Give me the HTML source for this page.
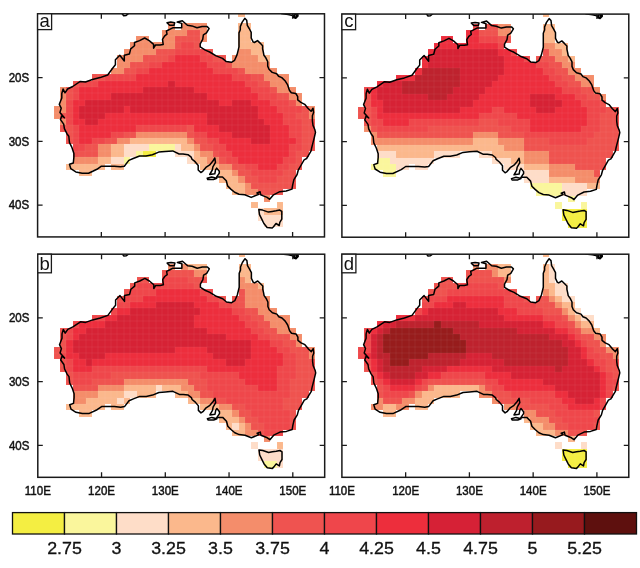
<!DOCTYPE html>
<html><head><meta charset="utf-8"><title>fig</title>
<style>
html,body{margin:0;padding:0;background:#fff;}
svg{display:block;font-family:"Liberation Sans",sans-serif;fill:#111;}
.tl{font-size:12px;stroke:#111;stroke-width:0.45px;}
.cl{stroke:#111;stroke-width:0.3px;}
text{opacity:0.999;}
</style></head><body>
<svg width="640" height="568" viewBox="0 0 640 568">
<defs><filter id="bl" x="-5%" y="-5%" width="110%" height="110%"><feGaussianBlur stdDeviation="0.55"/></filter></defs>
<rect width="640" height="568" fill="#fff"/>
<g transform="translate(37.6,13.8)">
<clipPath id="cpa"><rect x="0" y="0" width="286.88" height="223.12"/></clipPath>
<g clip-path="url(#cpa)">
<g filter="url(#bl)" shape-rendering="crispEdges">
<rect x="200.40" y="-2.80" width="7.00" height="6.00" fill="#FBB88C"/>
<rect x="130.40" y="9.20" width="7.00" height="7.00" fill="#F48D6B"/>
<rect x="143.40" y="9.20" width="26.00" height="7.00" fill="#F48D6B"/>
<rect x="200.40" y="9.20" width="13.00" height="7.00" fill="#FBB88C"/>
<rect x="124.40" y="16.20" width="25.00" height="6.00" fill="#F48D6B"/>
<rect x="149.40" y="16.20" width="13.00" height="6.00" fill="#EF5350"/>
<rect x="162.40" y="16.20" width="7.00" height="6.00" fill="#F48D6B"/>
<rect x="200.40" y="16.20" width="13.00" height="6.00" fill="#FBB88C"/>
<rect x="98.40" y="22.20" width="13.00" height="6.00" fill="#F48D6B"/>
<rect x="124.40" y="22.20" width="13.00" height="6.00" fill="#F48D6B"/>
<rect x="137.40" y="22.20" width="25.00" height="6.00" fill="#EF5350"/>
<rect x="162.40" y="22.20" width="7.00" height="6.00" fill="#F48D6B"/>
<rect x="200.40" y="22.20" width="13.00" height="6.00" fill="#FBB88C"/>
<rect x="92.40" y="28.20" width="45.00" height="7.00" fill="#F48D6B"/>
<rect x="137.40" y="28.20" width="6.00" height="7.00" fill="#EF5350"/>
<rect x="143.40" y="28.20" width="13.00" height="7.00" fill="#EF464B"/>
<rect x="156.40" y="28.20" width="6.00" height="7.00" fill="#EF5350"/>
<rect x="200.40" y="28.20" width="26.00" height="7.00" fill="#FBB88C"/>
<rect x="86.40" y="35.20" width="32.00" height="6.00" fill="#F48D6B"/>
<rect x="118.40" y="35.20" width="19.00" height="6.00" fill="#EF5350"/>
<rect x="137.40" y="35.20" width="32.00" height="6.00" fill="#EF464B"/>
<rect x="169.40" y="35.20" width="6.00" height="6.00" fill="#EF5350"/>
<rect x="200.40" y="35.20" width="13.00" height="6.00" fill="#F48D6B"/>
<rect x="213.40" y="35.20" width="13.00" height="6.00" fill="#FBB88C"/>
<rect x="79.40" y="41.20" width="26.00" height="7.00" fill="#F48D6B"/>
<rect x="105.40" y="41.20" width="25.00" height="7.00" fill="#EF5350"/>
<rect x="130.40" y="41.20" width="7.00" height="7.00" fill="#EF464B"/>
<rect x="137.40" y="41.20" width="25.00" height="7.00" fill="#ED2E3C"/>
<rect x="162.40" y="41.20" width="13.00" height="7.00" fill="#EF464B"/>
<rect x="175.40" y="41.20" width="13.00" height="7.00" fill="#EF5350"/>
<rect x="194.40" y="41.20" width="26.00" height="7.00" fill="#F48D6B"/>
<rect x="220.40" y="41.20" width="12.00" height="7.00" fill="#FBB88C"/>
<rect x="79.40" y="48.20" width="13.00" height="6.00" fill="#F48D6B"/>
<rect x="92.40" y="48.20" width="19.00" height="6.00" fill="#EF5350"/>
<rect x="111.40" y="48.20" width="13.00" height="6.00" fill="#EF464B"/>
<rect x="124.40" y="48.20" width="45.00" height="6.00" fill="#ED2E3C"/>
<rect x="169.40" y="48.20" width="19.00" height="6.00" fill="#EF464B"/>
<rect x="188.40" y="48.20" width="6.00" height="6.00" fill="#EF5350"/>
<rect x="194.40" y="48.20" width="38.00" height="6.00" fill="#F48D6B"/>
<rect x="73.40" y="54.20" width="13.00" height="6.00" fill="#F48D6B"/>
<rect x="86.40" y="54.20" width="12.00" height="6.00" fill="#EF5350"/>
<rect x="98.40" y="54.20" width="13.00" height="6.00" fill="#EF464B"/>
<rect x="111.40" y="54.20" width="64.00" height="6.00" fill="#ED2E3C"/>
<rect x="175.40" y="54.20" width="25.00" height="6.00" fill="#EF464B"/>
<rect x="200.40" y="54.20" width="7.00" height="6.00" fill="#EF5350"/>
<rect x="207.40" y="54.20" width="32.00" height="6.00" fill="#F48D6B"/>
<rect x="54.40" y="60.20" width="13.00" height="7.00" fill="#EF5350"/>
<rect x="67.40" y="60.20" width="31.00" height="7.00" fill="#EF464B"/>
<rect x="98.40" y="60.20" width="96.00" height="7.00" fill="#ED2E3C"/>
<rect x="194.40" y="60.20" width="19.00" height="7.00" fill="#EF464B"/>
<rect x="213.40" y="60.20" width="13.00" height="7.00" fill="#EF5350"/>
<rect x="226.40" y="60.20" width="25.00" height="7.00" fill="#F48D6B"/>
<rect x="35.40" y="67.20" width="6.00" height="6.00" fill="#EF5350"/>
<rect x="41.40" y="67.20" width="19.00" height="6.00" fill="#EF464B"/>
<rect x="60.40" y="67.20" width="70.00" height="6.00" fill="#ED2E3C"/>
<rect x="130.40" y="67.20" width="7.00" height="6.00" fill="#D62136"/>
<rect x="137.40" y="67.20" width="70.00" height="6.00" fill="#ED2E3C"/>
<rect x="207.40" y="67.20" width="13.00" height="6.00" fill="#EF464B"/>
<rect x="220.40" y="67.20" width="12.00" height="6.00" fill="#EF5350"/>
<rect x="232.40" y="67.20" width="19.00" height="6.00" fill="#F48D6B"/>
<rect x="22.40" y="73.20" width="6.00" height="6.00" fill="#F48D6B"/>
<rect x="28.40" y="73.20" width="7.00" height="6.00" fill="#EF5350"/>
<rect x="35.40" y="73.20" width="6.00" height="6.00" fill="#EF464B"/>
<rect x="41.40" y="73.20" width="64.00" height="6.00" fill="#ED2E3C"/>
<rect x="105.40" y="73.20" width="51.00" height="6.00" fill="#D62136"/>
<rect x="156.40" y="73.20" width="57.00" height="6.00" fill="#ED2E3C"/>
<rect x="213.40" y="73.20" width="19.00" height="6.00" fill="#EF464B"/>
<rect x="232.40" y="73.20" width="7.00" height="6.00" fill="#EF5350"/>
<rect x="239.40" y="73.20" width="19.00" height="6.00" fill="#F48D6B"/>
<rect x="22.40" y="79.20" width="6.00" height="7.00" fill="#F48D6B"/>
<rect x="28.40" y="79.20" width="7.00" height="7.00" fill="#EF5350"/>
<rect x="35.40" y="79.20" width="6.00" height="7.00" fill="#EF464B"/>
<rect x="41.40" y="79.20" width="32.00" height="7.00" fill="#ED2E3C"/>
<rect x="73.40" y="79.20" width="96.00" height="7.00" fill="#D62136"/>
<rect x="169.40" y="79.20" width="51.00" height="7.00" fill="#ED2E3C"/>
<rect x="220.40" y="79.20" width="19.00" height="7.00" fill="#EF464B"/>
<rect x="239.40" y="79.20" width="12.00" height="7.00" fill="#EF5350"/>
<rect x="251.40" y="79.20" width="13.00" height="7.00" fill="#F48D6B"/>
<rect x="22.40" y="86.20" width="6.00" height="6.00" fill="#F48D6B"/>
<rect x="28.40" y="86.20" width="7.00" height="6.00" fill="#EF464B"/>
<rect x="35.40" y="86.20" width="12.00" height="6.00" fill="#ED2E3C"/>
<rect x="47.40" y="86.20" width="134.00" height="6.00" fill="#D62136"/>
<rect x="181.40" y="86.20" width="13.00" height="6.00" fill="#ED2E3C"/>
<rect x="194.40" y="86.20" width="19.00" height="6.00" fill="#D62136"/>
<rect x="213.40" y="86.20" width="19.00" height="6.00" fill="#ED2E3C"/>
<rect x="232.40" y="86.20" width="19.00" height="6.00" fill="#EF464B"/>
<rect x="251.40" y="86.20" width="7.00" height="6.00" fill="#EF5350"/>
<rect x="258.40" y="86.20" width="6.00" height="6.00" fill="#F48D6B"/>
<rect x="16.40" y="92.20" width="12.00" height="7.00" fill="#F48D6B"/>
<rect x="28.40" y="92.20" width="7.00" height="7.00" fill="#EF464B"/>
<rect x="35.40" y="92.20" width="6.00" height="7.00" fill="#ED2E3C"/>
<rect x="41.40" y="92.20" width="45.00" height="7.00" fill="#D62136"/>
<rect x="86.40" y="92.20" width="6.00" height="7.00" fill="#ED2E3C"/>
<rect x="92.40" y="92.20" width="128.00" height="7.00" fill="#D62136"/>
<rect x="220.40" y="92.20" width="19.00" height="7.00" fill="#ED2E3C"/>
<rect x="239.40" y="92.20" width="25.00" height="7.00" fill="#EF464B"/>
<rect x="264.40" y="92.20" width="7.00" height="7.00" fill="#EF5350"/>
<rect x="271.40" y="92.20" width="6.00" height="7.00" fill="#F48D6B"/>
<rect x="16.40" y="99.20" width="6.00" height="6.00" fill="#F48D6B"/>
<rect x="22.40" y="99.20" width="6.00" height="6.00" fill="#EF5350"/>
<rect x="28.40" y="99.20" width="7.00" height="6.00" fill="#EF464B"/>
<rect x="35.40" y="99.20" width="6.00" height="6.00" fill="#ED2E3C"/>
<rect x="41.40" y="99.20" width="26.00" height="6.00" fill="#D62136"/>
<rect x="67.40" y="99.20" width="102.00" height="6.00" fill="#ED2E3C"/>
<rect x="169.40" y="99.20" width="51.00" height="6.00" fill="#D62136"/>
<rect x="220.40" y="99.20" width="25.00" height="6.00" fill="#ED2E3C"/>
<rect x="245.40" y="99.20" width="13.00" height="6.00" fill="#EF464B"/>
<rect x="258.40" y="99.20" width="13.00" height="6.00" fill="#EF5350"/>
<rect x="271.40" y="99.20" width="6.00" height="6.00" fill="#F48D6B"/>
<rect x="22.40" y="105.20" width="6.00" height="6.00" fill="#F48D6B"/>
<rect x="28.40" y="105.20" width="7.00" height="6.00" fill="#EF464B"/>
<rect x="35.40" y="105.20" width="12.00" height="6.00" fill="#ED2E3C"/>
<rect x="47.40" y="105.20" width="13.00" height="6.00" fill="#D62136"/>
<rect x="60.40" y="105.20" width="109.00" height="6.00" fill="#ED2E3C"/>
<rect x="169.40" y="105.20" width="57.00" height="6.00" fill="#D62136"/>
<rect x="226.40" y="105.20" width="19.00" height="6.00" fill="#ED2E3C"/>
<rect x="245.40" y="105.20" width="19.00" height="6.00" fill="#EF464B"/>
<rect x="264.40" y="105.20" width="13.00" height="6.00" fill="#EF5350"/>
<rect x="22.40" y="111.20" width="13.00" height="7.00" fill="#EF5350"/>
<rect x="35.40" y="111.20" width="6.00" height="7.00" fill="#EF464B"/>
<rect x="41.40" y="111.20" width="57.00" height="7.00" fill="#ED2E3C"/>
<rect x="98.40" y="111.20" width="51.00" height="7.00" fill="#EF464B"/>
<rect x="149.40" y="111.20" width="7.00" height="7.00" fill="#EF5350"/>
<rect x="156.40" y="111.20" width="25.00" height="7.00" fill="#ED2E3C"/>
<rect x="181.40" y="111.20" width="51.00" height="7.00" fill="#D62136"/>
<rect x="232.40" y="111.20" width="19.00" height="7.00" fill="#ED2E3C"/>
<rect x="251.40" y="111.20" width="13.00" height="7.00" fill="#EF464B"/>
<rect x="264.40" y="111.20" width="13.00" height="7.00" fill="#EF5350"/>
<rect x="28.40" y="118.20" width="7.00" height="6.00" fill="#EF5350"/>
<rect x="35.40" y="118.20" width="6.00" height="6.00" fill="#EF464B"/>
<rect x="41.40" y="118.20" width="32.00" height="6.00" fill="#ED2E3C"/>
<rect x="73.40" y="118.20" width="13.00" height="6.00" fill="#EF464B"/>
<rect x="86.40" y="118.20" width="12.00" height="6.00" fill="#EF5350"/>
<rect x="98.40" y="118.20" width="51.00" height="6.00" fill="#F48D6B"/>
<rect x="149.40" y="118.20" width="7.00" height="6.00" fill="#EF5350"/>
<rect x="156.40" y="118.20" width="13.00" height="6.00" fill="#EF464B"/>
<rect x="169.40" y="118.20" width="25.00" height="6.00" fill="#ED2E3C"/>
<rect x="194.40" y="118.20" width="38.00" height="6.00" fill="#D62136"/>
<rect x="232.40" y="118.20" width="19.00" height="6.00" fill="#ED2E3C"/>
<rect x="251.40" y="118.20" width="13.00" height="6.00" fill="#EF464B"/>
<rect x="264.40" y="118.20" width="13.00" height="6.00" fill="#EF5350"/>
<rect x="28.40" y="124.20" width="7.00" height="6.00" fill="#EF5350"/>
<rect x="35.40" y="124.20" width="6.00" height="6.00" fill="#EF464B"/>
<rect x="41.40" y="124.20" width="13.00" height="6.00" fill="#ED2E3C"/>
<rect x="54.40" y="124.20" width="13.00" height="6.00" fill="#EF464B"/>
<rect x="67.40" y="124.20" width="12.00" height="6.00" fill="#EF5350"/>
<rect x="79.40" y="124.20" width="13.00" height="6.00" fill="#F48D6B"/>
<rect x="92.40" y="124.20" width="57.00" height="6.00" fill="#FBB88C"/>
<rect x="149.40" y="124.20" width="7.00" height="6.00" fill="#F48D6B"/>
<rect x="156.40" y="124.20" width="13.00" height="6.00" fill="#EF5350"/>
<rect x="169.40" y="124.20" width="12.00" height="6.00" fill="#EF464B"/>
<rect x="181.40" y="124.20" width="32.00" height="6.00" fill="#ED2E3C"/>
<rect x="213.40" y="124.20" width="19.00" height="6.00" fill="#D62136"/>
<rect x="232.40" y="124.20" width="26.00" height="6.00" fill="#ED2E3C"/>
<rect x="258.40" y="124.20" width="6.00" height="6.00" fill="#EF464B"/>
<rect x="264.40" y="124.20" width="13.00" height="6.00" fill="#EF5350"/>
<rect x="35.40" y="130.20" width="12.00" height="7.00" fill="#EF464B"/>
<rect x="47.40" y="130.20" width="13.00" height="7.00" fill="#EF5350"/>
<rect x="60.40" y="130.20" width="13.00" height="7.00" fill="#F48D6B"/>
<rect x="73.40" y="130.20" width="13.00" height="7.00" fill="#FBB88C"/>
<rect x="86.40" y="130.20" width="25.00" height="7.00" fill="#FEDDC8"/>
<rect x="111.40" y="130.20" width="26.00" height="7.00" fill="#FAF69C"/>
<rect x="137.40" y="130.20" width="6.00" height="7.00" fill="#FEDDC8"/>
<rect x="143.40" y="130.20" width="13.00" height="7.00" fill="#FBB88C"/>
<rect x="156.40" y="130.20" width="6.00" height="7.00" fill="#F48D6B"/>
<rect x="162.40" y="130.20" width="13.00" height="7.00" fill="#EF5350"/>
<rect x="175.40" y="130.20" width="13.00" height="7.00" fill="#EF464B"/>
<rect x="188.40" y="130.20" width="63.00" height="7.00" fill="#ED2E3C"/>
<rect x="251.40" y="130.20" width="13.00" height="7.00" fill="#EF464B"/>
<rect x="264.40" y="130.20" width="13.00" height="7.00" fill="#EF5350"/>
<rect x="35.40" y="137.20" width="25.00" height="6.00" fill="#EF5350"/>
<rect x="60.40" y="137.20" width="13.00" height="6.00" fill="#F48D6B"/>
<rect x="73.40" y="137.20" width="13.00" height="6.00" fill="#FBB88C"/>
<rect x="86.40" y="137.20" width="12.00" height="6.00" fill="#FEDDC8"/>
<rect x="98.40" y="137.20" width="7.00" height="6.00" fill="#FAF69C"/>
<rect x="105.40" y="137.20" width="13.00" height="6.00" fill="#F4EE42"/>
<rect x="137.40" y="137.20" width="19.00" height="6.00" fill="#FEDDC8"/>
<rect x="156.40" y="137.20" width="6.00" height="6.00" fill="#FBB88C"/>
<rect x="162.40" y="137.20" width="13.00" height="6.00" fill="#F48D6B"/>
<rect x="175.40" y="137.20" width="6.00" height="6.00" fill="#EF5350"/>
<rect x="181.40" y="137.20" width="13.00" height="6.00" fill="#EF464B"/>
<rect x="194.40" y="137.20" width="57.00" height="6.00" fill="#ED2E3C"/>
<rect x="251.40" y="137.20" width="7.00" height="6.00" fill="#EF464B"/>
<rect x="258.40" y="137.20" width="13.00" height="6.00" fill="#EF5350"/>
<rect x="35.40" y="143.20" width="25.00" height="7.00" fill="#F48D6B"/>
<rect x="60.40" y="143.20" width="13.00" height="7.00" fill="#FBB88C"/>
<rect x="73.40" y="143.20" width="13.00" height="7.00" fill="#FEDDC8"/>
<rect x="86.40" y="143.20" width="6.00" height="7.00" fill="#FAF69C"/>
<rect x="149.40" y="143.20" width="7.00" height="7.00" fill="#FEDDC8"/>
<rect x="156.40" y="143.20" width="13.00" height="7.00" fill="#FBB88C"/>
<rect x="169.40" y="143.20" width="12.00" height="7.00" fill="#F48D6B"/>
<rect x="181.40" y="143.20" width="7.00" height="7.00" fill="#EF5350"/>
<rect x="188.40" y="143.20" width="12.00" height="7.00" fill="#EF464B"/>
<rect x="200.40" y="143.20" width="45.00" height="7.00" fill="#ED2E3C"/>
<rect x="245.40" y="143.20" width="13.00" height="7.00" fill="#EF464B"/>
<rect x="258.40" y="143.20" width="6.00" height="7.00" fill="#EF5350"/>
<rect x="28.40" y="150.20" width="39.00" height="6.00" fill="#FBB88C"/>
<rect x="73.40" y="150.20" width="13.00" height="6.00" fill="#FBB88C"/>
<rect x="162.40" y="150.20" width="19.00" height="6.00" fill="#FBB88C"/>
<rect x="181.40" y="150.20" width="13.00" height="6.00" fill="#F48D6B"/>
<rect x="194.40" y="150.20" width="13.00" height="6.00" fill="#EF5350"/>
<rect x="207.40" y="150.20" width="13.00" height="6.00" fill="#EF464B"/>
<rect x="220.40" y="150.20" width="19.00" height="6.00" fill="#ED2E3C"/>
<rect x="239.40" y="150.20" width="12.00" height="6.00" fill="#EF464B"/>
<rect x="251.40" y="150.20" width="13.00" height="6.00" fill="#EF5350"/>
<rect x="41.40" y="156.20" width="13.00" height="6.00" fill="#FBB88C"/>
<rect x="181.40" y="156.20" width="13.00" height="6.00" fill="#FBB88C"/>
<rect x="194.40" y="156.20" width="6.00" height="6.00" fill="#F48D6B"/>
<rect x="200.40" y="156.20" width="13.00" height="6.00" fill="#EF5350"/>
<rect x="213.40" y="156.20" width="32.00" height="6.00" fill="#EF464B"/>
<rect x="245.40" y="156.20" width="13.00" height="6.00" fill="#EF5350"/>
<rect x="181.40" y="162.20" width="19.00" height="7.00" fill="#FBB88C"/>
<rect x="200.40" y="162.20" width="7.00" height="7.00" fill="#F48D6B"/>
<rect x="207.40" y="162.20" width="13.00" height="7.00" fill="#EF5350"/>
<rect x="220.40" y="162.20" width="19.00" height="7.00" fill="#EF464B"/>
<rect x="239.40" y="162.20" width="19.00" height="7.00" fill="#EF5350"/>
<rect x="188.40" y="169.20" width="19.00" height="6.00" fill="#FBB88C"/>
<rect x="207.40" y="169.20" width="6.00" height="6.00" fill="#F48D6B"/>
<rect x="213.40" y="169.20" width="45.00" height="6.00" fill="#EF5350"/>
<rect x="194.40" y="175.20" width="13.00" height="6.00" fill="#FBB88C"/>
<rect x="207.40" y="175.20" width="13.00" height="6.00" fill="#F48D6B"/>
<rect x="220.40" y="175.20" width="25.00" height="6.00" fill="#EF5350"/>
<rect x="226.40" y="181.20" width="6.00" height="7.00" fill="#F48D6B"/>
<rect x="213.40" y="188.20" width="7.00" height="6.00" fill="#FBB88C"/>
<rect x="239.40" y="188.20" width="6.00" height="6.00" fill="#FBB88C"/>
<rect x="220.40" y="194.20" width="6.00" height="7.00" fill="#FEDDC8"/>
<rect x="226.40" y="194.20" width="19.00" height="7.00" fill="#FBB88C"/>
<rect x="220.40" y="201.20" width="25.00" height="6.00" fill="#FEDDC8"/>
<rect x="226.40" y="207.20" width="19.00" height="6.00" fill="#FEDDC8"/>
</g>
<path d="M-3.6000000000000014,0 V223.1 M3.3999999999999986,0 V223.1 M9.399999999999999,0 V223.1 M16.4,0 V223.1 M22.4,0 V223.1 M28.4,0 V223.1 M35.4,0 V223.1 M41.4,0 V223.1 M47.4,0 V223.1 M54.4,0 V223.1 M60.4,0 V223.1 M67.4,0 V223.1 M73.4,0 V223.1 M79.4,0 V223.1 M86.4,0 V223.1 M92.4,0 V223.1 M98.4,0 V223.1 M105.4,0 V223.1 M111.4,0 V223.1 M118.4,0 V223.1 M124.4,0 V223.1 M130.4,0 V223.1 M137.4,0 V223.1 M143.4,0 V223.1 M149.4,0 V223.1 M156.4,0 V223.1 M162.4,0 V223.1 M169.4,0 V223.1 M175.4,0 V223.1 M181.4,0 V223.1 M188.4,0 V223.1 M194.4,0 V223.1 M200.4,0 V223.1 M207.4,0 V223.1 M213.4,0 V223.1 M220.4,0 V223.1 M226.4,0 V223.1 M232.4,0 V223.1 M239.4,0 V223.1 M245.4,0 V223.1 M251.4,0 V223.1 M258.4,0 V223.1 M264.4,0 V223.1 M271.4,0 V223.1 M277.4,0 V223.1 M283.4,0 V223.1 M290.4,0 V223.1 M0,-2.8000000000000007 H286.9 M0,3.1999999999999993 H286.9 M0,9.2 H286.9 M0,16.2 H286.9 M0,22.2 H286.9 M0,28.2 H286.9 M0,35.2 H286.9 M0,41.2 H286.9 M0,48.2 H286.9 M0,54.2 H286.9 M0,60.2 H286.9 M0,67.2 H286.9 M0,73.2 H286.9 M0,79.2 H286.9 M0,86.2 H286.9 M0,92.2 H286.9 M0,99.2 H286.9 M0,105.2 H286.9 M0,111.2 H286.9 M0,118.2 H286.9 M0,124.2 H286.9 M0,130.2 H286.9 M0,137.2 H286.9 M0,143.2 H286.9 M0,150.2 H286.9 M0,156.2 H286.9 M0,162.2 H286.9 M0,169.2 H286.9 M0,175.2 H286.9 M0,181.2 H286.9 M0,188.2 H286.9 M0,194.2 H286.9 M0,201.2 H286.9 M0,207.2 H286.9 M0,213.2 H286.9 M0,220.2 H286.9 M0,226.2 H286.9" stroke="#fff" stroke-opacity="0.08" stroke-width="0.8" fill="none"/>
<path d="M207.2,4.5 L209.1,6.4 L209.7,11.5 L211.6,14.7 L213.6,18.5 L213.6,24.2 L215.5,28.1 L216.8,28.7 L219.9,26.8 L222.5,29.3 L225.0,31.9 L225.0,35.1 L225.7,38.2 L226.3,41.4 L228.2,44.0 L230.1,47.8 L230.1,52.3 L231.4,55.5 L234.6,58.6 L239.1,59.9 L241.0,62.5 L244.2,63.8 L247.4,66.9 L249.9,70.8 L251.8,76.5 L253.7,79.0 L258.2,79.7 L260.1,82.9 L260.1,86.1 L263.3,88.6 L267.1,90.5 L270.3,94.4 L273.5,97.5 L275.4,94.4 L276.0,98.8 L274.8,102.0 L274.8,107.1 L275.4,111.6 L277.3,116.0 L277.9,118.6 L276.7,123.7 L275.4,128.8 L274.1,133.9 L273.5,137.1 L270.9,141.5 L269.0,144.7 L266.5,146.0 L263.3,151.7 L260.7,156.2 L259.5,160.7 L256.3,165.8 L255.0,171.5 L254.4,175.3 L248.6,177.2 L242.2,177.9 L235.9,181.0 L232.1,185.5 L229.5,183.6 L226.3,182.3 L223.1,181.0 L222.5,177.9 L219.3,179.1 L221.2,180.4 L213.6,183.6 L207.2,181.0 L201.4,180.4 L197.0,178.5 L193.2,175.3 L190.0,172.1 L188.7,167.0 L184.9,163.2 L181.7,163.2 L179.1,163.2 L181.7,159.4 L181.7,157.5 L179.1,154.3 L177.9,156.2 L177.2,160.0 L172.1,160.7 L174.7,156.2 L175.3,153.0 L177.9,148.5 L177.2,144.1 L175.3,147.3 L172.1,151.1 L168.3,153.6 L165.1,157.5 L163.2,158.7 L160.6,156.2 L160.6,151.7 L157.5,147.9 L154.3,145.3 L153.6,143.4 L150.4,140.9 L145.4,140.2 L141.5,140.2 L135.1,137.1 L127.5,137.7 L121.1,138.3 L114.8,140.9 L108.4,142.2 L102.0,142.2 L95.6,144.7 L91.2,146.6 L86.7,152.4 L82.9,153.0 L76.5,152.4 L70.1,152.4 L63.8,152.4 L59.3,155.5 L51.0,159.4 L44.6,159.4 L38.2,158.1 L33.2,154.9 L31.9,150.5 L35.7,149.2 L36.3,143.4 L36.3,139.6 L34.4,133.9 L31.9,128.8 L31.2,122.4 L29.3,119.9 L26.8,114.8 L26.1,110.3 L22.9,105.8 L24.2,102.0 L26.8,103.9 L22.3,98.8 L23.6,94.4 L21.7,90.5 L24.2,84.1 L24.2,79.7 L25.5,75.2 L27.4,79.0 L30.0,75.2 L35.1,72.7 L42.7,67.6 L47.8,68.2 L54.8,65.7 L62.5,63.8 L70.1,61.2 L75.2,54.2 L77.8,51.0 L77.8,45.9 L82.2,41.4 L86.7,47.2 L86.7,41.4 L91.8,40.2 L93.1,35.1 L96.9,31.9 L96.9,28.7 L102.0,26.8 L107.1,24.2 L111.6,26.8 L116.0,30.6 L116.0,34.4 L117.9,31.2 L122.4,31.2 L125.6,30.6 L124.9,25.5 L126.9,22.3 L129.4,20.4 L128.8,17.2 L132.6,15.3 L135.1,14.0 L140.2,14.0 L144.1,14.0 L144.1,9.6 L139.6,8.3 L144.7,7.0 L149.8,11.5 L154.3,12.1 L159.4,14.0 L164.5,12.8 L169.6,12.8 L171.5,14.7 L168.9,19.1 L165.8,21.0 L165.1,25.5 L162.6,30.0 L162.6,33.1 L167.7,36.3 L172.1,38.2 L178.5,42.1 L184.9,44.6 L188.7,47.8 L193.8,48.5 L197.0,46.5 L199.5,40.8 L201.4,33.1 L201.4,25.5 L201.4,19.1 L202.7,15.9 L202.7,12.8 L204.6,8.3 L207.2,4.5Z M221.2,195.7 L225.0,196.3 L230.8,198.3 L234.6,197.6 L238.4,197.0 L242.2,196.3 L244.2,197.6 L244.2,202.7 L244.2,205.3 L242.2,208.5 L241.6,211.7 L238.4,209.7 L235.9,212.9 L234.6,214.2 L229.5,213.6 L226.3,209.7 L224.4,205.9 L221.9,200.8 L221.2,195.7Z M169.6,164.5 L174.0,163.2 L179.1,164.5 L175.9,165.8 L170.2,165.8 L169.6,164.5Z M129.4,8.9 L133.2,8.3 L137.1,8.9 L136.4,11.5 L132.0,11.5 L129.4,8.9Z M84.2,-0.6 L86.1,1.9 L88.6,1.6 L91.2,-0.6 M243.5,-0.3 L250.5,0.6 L255.0,1.6 L256.0,3.8 L258.2,4.5 L260.4,2.2 L260.1,-0.6 M256.3,1.0 L258.8,0.6 L258.8,2.9 L256.9,3.2Z" fill="none" stroke="#000" stroke-width="1.5" stroke-linejoin="round"/>
</g>
<rect x="0" y="0" width="286.88" height="223.12" fill="none" stroke="#1a1a1a" stroke-width="1.5"/>
<path d="M63.75,0 v5 M63.75,223.12 v-5 M127.50,0 v5 M127.50,223.12 v-5 M191.25,0 v5 M191.25,223.12 v-5 M255.00,0 v5 M255.00,223.12 v-5 M0,63.75 h5 M286.88,63.75 h-5 M0,127.50 h5 M286.88,127.50 h-5 M0,191.25 h5 M286.88,191.25 h-5" stroke="#1a1a1a" stroke-width="1.3" fill="none"/>
<rect x="0" y="0" width="14.0" height="15.8" fill="#fff" stroke="#1a1a1a" stroke-width="1.3"/>
<text x="7.10" y="13.1" text-anchor="middle" font-size="18.5">a</text>
<text class="tl" transform="translate(-8.4,67.95) scale(0.96,1)" text-anchor="end">20S</text>
<text class="tl" transform="translate(-8.4,131.70) scale(0.96,1)" text-anchor="end">30S</text>
<text class="tl" transform="translate(-8.4,195.45) scale(0.96,1)" text-anchor="end">40S</text>
</g>
<g transform="translate(341.9,14.1)">
<clipPath id="cpc"><rect x="0" y="0" width="286.88" height="223.12"/></clipPath>
<g clip-path="url(#cpc)">
<g filter="url(#bl)" shape-rendering="crispEdges">
<rect x="201.10" y="-3.10" width="6.00" height="6.00" fill="#FBB88C"/>
<rect x="131.10" y="9.90" width="6.00" height="6.00" fill="#EF464B"/>
<rect x="143.10" y="9.90" width="13.00" height="6.00" fill="#EF5350"/>
<rect x="156.10" y="9.90" width="13.00" height="6.00" fill="#F48D6B"/>
<rect x="201.10" y="9.90" width="12.00" height="6.00" fill="#FBB88C"/>
<rect x="124.10" y="15.90" width="13.00" height="6.00" fill="#ED2E3C"/>
<rect x="137.10" y="15.90" width="19.00" height="6.00" fill="#EF5350"/>
<rect x="156.10" y="15.90" width="13.00" height="6.00" fill="#F48D6B"/>
<rect x="201.10" y="15.90" width="12.00" height="6.00" fill="#FBB88C"/>
<rect x="99.10" y="21.90" width="12.00" height="7.00" fill="#ED2E3C"/>
<rect x="124.10" y="21.90" width="13.00" height="7.00" fill="#ED2E3C"/>
<rect x="137.10" y="21.90" width="19.00" height="7.00" fill="#EF464B"/>
<rect x="156.10" y="21.90" width="13.00" height="7.00" fill="#EF5350"/>
<rect x="201.10" y="21.90" width="12.00" height="7.00" fill="#FBB88C"/>
<rect x="92.10" y="28.90" width="64.00" height="6.00" fill="#ED2E3C"/>
<rect x="156.10" y="28.90" width="6.00" height="6.00" fill="#EF464B"/>
<rect x="201.10" y="28.90" width="12.00" height="6.00" fill="#F48D6B"/>
<rect x="213.10" y="28.90" width="13.00" height="6.00" fill="#FBB88C"/>
<rect x="86.10" y="34.90" width="6.00" height="7.00" fill="#ED2E3C"/>
<rect x="92.10" y="34.90" width="64.00" height="7.00" fill="#D62136"/>
<rect x="156.10" y="34.90" width="13.00" height="7.00" fill="#ED2E3C"/>
<rect x="169.10" y="34.90" width="6.00" height="7.00" fill="#EF464B"/>
<rect x="201.10" y="34.90" width="6.00" height="7.00" fill="#EF5350"/>
<rect x="207.10" y="34.90" width="13.00" height="7.00" fill="#F48D6B"/>
<rect x="220.10" y="34.90" width="6.00" height="7.00" fill="#FBB88C"/>
<rect x="80.10" y="41.90" width="6.00" height="6.00" fill="#ED2E3C"/>
<rect x="86.10" y="41.90" width="76.00" height="6.00" fill="#D62136"/>
<rect x="162.10" y="41.90" width="20.00" height="6.00" fill="#ED2E3C"/>
<rect x="182.10" y="41.90" width="6.00" height="6.00" fill="#EF464B"/>
<rect x="194.10" y="41.90" width="19.00" height="6.00" fill="#EF5350"/>
<rect x="213.10" y="41.90" width="13.00" height="6.00" fill="#F48D6B"/>
<rect x="226.10" y="41.90" width="7.00" height="6.00" fill="#FBB88C"/>
<rect x="80.10" y="47.90" width="6.00" height="6.00" fill="#ED2E3C"/>
<rect x="86.10" y="47.90" width="76.00" height="6.00" fill="#D62136"/>
<rect x="162.10" y="47.90" width="32.00" height="6.00" fill="#ED2E3C"/>
<rect x="194.10" y="47.90" width="13.00" height="6.00" fill="#EF464B"/>
<rect x="207.10" y="47.90" width="13.00" height="6.00" fill="#EF5350"/>
<rect x="220.10" y="47.90" width="13.00" height="6.00" fill="#F48D6B"/>
<rect x="73.10" y="53.90" width="7.00" height="7.00" fill="#ED2E3C"/>
<rect x="80.10" y="53.90" width="38.00" height="7.00" fill="#BE202E"/>
<rect x="118.10" y="53.90" width="44.00" height="7.00" fill="#D62136"/>
<rect x="162.10" y="53.90" width="39.00" height="7.00" fill="#ED2E3C"/>
<rect x="201.10" y="53.90" width="12.00" height="7.00" fill="#EF464B"/>
<rect x="213.10" y="53.90" width="13.00" height="7.00" fill="#EF5350"/>
<rect x="226.10" y="53.90" width="13.00" height="7.00" fill="#F48D6B"/>
<rect x="54.10" y="60.90" width="19.00" height="6.00" fill="#ED2E3C"/>
<rect x="73.10" y="60.90" width="45.00" height="6.00" fill="#BE202E"/>
<rect x="118.10" y="60.90" width="38.00" height="6.00" fill="#D62136"/>
<rect x="156.10" y="60.90" width="51.00" height="6.00" fill="#ED2E3C"/>
<rect x="207.10" y="60.90" width="13.00" height="6.00" fill="#EF464B"/>
<rect x="220.10" y="60.90" width="13.00" height="6.00" fill="#EF5350"/>
<rect x="233.10" y="60.90" width="19.00" height="6.00" fill="#F48D6B"/>
<rect x="35.10" y="66.90" width="6.00" height="6.00" fill="#ED2E3C"/>
<rect x="41.10" y="66.90" width="19.00" height="6.00" fill="#D62136"/>
<rect x="60.10" y="66.90" width="58.00" height="6.00" fill="#BE202E"/>
<rect x="118.10" y="66.90" width="32.00" height="6.00" fill="#D62136"/>
<rect x="150.10" y="66.90" width="63.00" height="6.00" fill="#ED2E3C"/>
<rect x="213.10" y="66.90" width="13.00" height="6.00" fill="#EF464B"/>
<rect x="226.10" y="66.90" width="13.00" height="6.00" fill="#EF5350"/>
<rect x="239.10" y="66.90" width="13.00" height="6.00" fill="#F48D6B"/>
<rect x="22.10" y="72.90" width="7.00" height="7.00" fill="#EF464B"/>
<rect x="29.10" y="72.90" width="6.00" height="7.00" fill="#ED2E3C"/>
<rect x="35.10" y="72.90" width="25.00" height="7.00" fill="#D62136"/>
<rect x="60.10" y="72.90" width="51.00" height="7.00" fill="#BE202E"/>
<rect x="111.10" y="72.90" width="32.00" height="7.00" fill="#D62136"/>
<rect x="143.10" y="72.90" width="77.00" height="7.00" fill="#ED2E3C"/>
<rect x="220.10" y="72.90" width="19.00" height="7.00" fill="#EF464B"/>
<rect x="239.10" y="72.90" width="13.00" height="7.00" fill="#EF5350"/>
<rect x="252.10" y="72.90" width="6.00" height="7.00" fill="#F48D6B"/>
<rect x="22.10" y="79.90" width="7.00" height="6.00" fill="#EF5350"/>
<rect x="29.10" y="79.90" width="6.00" height="6.00" fill="#ED2E3C"/>
<rect x="35.10" y="79.90" width="51.00" height="6.00" fill="#D62136"/>
<rect x="86.10" y="79.90" width="19.00" height="6.00" fill="#BE202E"/>
<rect x="105.10" y="79.90" width="32.00" height="6.00" fill="#D62136"/>
<rect x="137.10" y="79.90" width="51.00" height="6.00" fill="#ED2E3C"/>
<rect x="188.10" y="79.90" width="25.00" height="6.00" fill="#D62136"/>
<rect x="213.10" y="79.90" width="20.00" height="6.00" fill="#ED2E3C"/>
<rect x="233.10" y="79.90" width="12.00" height="6.00" fill="#EF464B"/>
<rect x="245.10" y="79.90" width="13.00" height="6.00" fill="#EF5350"/>
<rect x="258.10" y="79.90" width="6.00" height="6.00" fill="#F48D6B"/>
<rect x="22.10" y="85.90" width="7.00" height="7.00" fill="#EF5350"/>
<rect x="29.10" y="85.90" width="12.00" height="7.00" fill="#ED2E3C"/>
<rect x="41.10" y="85.90" width="90.00" height="7.00" fill="#D62136"/>
<rect x="131.10" y="85.90" width="57.00" height="7.00" fill="#ED2E3C"/>
<rect x="188.10" y="85.90" width="32.00" height="7.00" fill="#D62136"/>
<rect x="220.10" y="85.90" width="19.00" height="7.00" fill="#ED2E3C"/>
<rect x="239.10" y="85.90" width="19.00" height="7.00" fill="#EF464B"/>
<rect x="258.10" y="85.90" width="6.00" height="7.00" fill="#EF5350"/>
<rect x="16.10" y="92.90" width="13.00" height="6.00" fill="#EF5350"/>
<rect x="29.10" y="92.90" width="6.00" height="6.00" fill="#EF464B"/>
<rect x="35.10" y="92.90" width="6.00" height="6.00" fill="#ED2E3C"/>
<rect x="41.10" y="92.90" width="77.00" height="6.00" fill="#D62136"/>
<rect x="118.10" y="92.90" width="32.00" height="6.00" fill="#ED2E3C"/>
<rect x="150.10" y="92.90" width="12.00" height="6.00" fill="#EF464B"/>
<rect x="162.10" y="92.90" width="32.00" height="6.00" fill="#ED2E3C"/>
<rect x="194.10" y="92.90" width="19.00" height="6.00" fill="#D62136"/>
<rect x="213.10" y="92.90" width="32.00" height="6.00" fill="#ED2E3C"/>
<rect x="245.10" y="92.90" width="19.00" height="6.00" fill="#EF464B"/>
<rect x="264.10" y="92.90" width="13.00" height="6.00" fill="#EF5350"/>
<rect x="16.10" y="98.90" width="13.00" height="6.00" fill="#EF5350"/>
<rect x="29.10" y="98.90" width="6.00" height="6.00" fill="#EF464B"/>
<rect x="35.10" y="98.90" width="102.00" height="6.00" fill="#ED2E3C"/>
<rect x="137.10" y="98.90" width="38.00" height="6.00" fill="#EF464B"/>
<rect x="175.10" y="98.90" width="70.00" height="6.00" fill="#ED2E3C"/>
<rect x="245.10" y="98.90" width="13.00" height="6.00" fill="#EF464B"/>
<rect x="258.10" y="98.90" width="19.00" height="6.00" fill="#EF5350"/>
<rect x="22.10" y="104.90" width="7.00" height="7.00" fill="#EF5350"/>
<rect x="29.10" y="104.90" width="12.00" height="7.00" fill="#EF464B"/>
<rect x="41.10" y="104.90" width="26.00" height="7.00" fill="#ED2E3C"/>
<rect x="67.10" y="104.90" width="70.00" height="7.00" fill="#EF464B"/>
<rect x="137.10" y="104.90" width="19.00" height="7.00" fill="#EF5350"/>
<rect x="156.10" y="104.90" width="32.00" height="7.00" fill="#EF464B"/>
<rect x="188.10" y="104.90" width="57.00" height="7.00" fill="#ED2E3C"/>
<rect x="245.10" y="104.90" width="13.00" height="7.00" fill="#EF464B"/>
<rect x="258.10" y="104.90" width="19.00" height="7.00" fill="#EF5350"/>
<rect x="22.10" y="111.90" width="7.00" height="6.00" fill="#F48D6B"/>
<rect x="29.10" y="111.90" width="6.00" height="6.00" fill="#EF5350"/>
<rect x="35.10" y="111.90" width="51.00" height="6.00" fill="#EF464B"/>
<rect x="86.10" y="111.90" width="83.00" height="6.00" fill="#EF5350"/>
<rect x="169.10" y="111.90" width="19.00" height="6.00" fill="#EF464B"/>
<rect x="188.10" y="111.90" width="51.00" height="6.00" fill="#ED2E3C"/>
<rect x="239.10" y="111.90" width="19.00" height="6.00" fill="#EF464B"/>
<rect x="258.10" y="111.90" width="19.00" height="6.00" fill="#EF5350"/>
<rect x="29.10" y="117.90" width="6.00" height="6.00" fill="#F48D6B"/>
<rect x="35.10" y="117.90" width="96.00" height="6.00" fill="#EF5350"/>
<rect x="131.10" y="117.90" width="25.00" height="6.00" fill="#F48D6B"/>
<rect x="156.10" y="117.90" width="26.00" height="6.00" fill="#EF5350"/>
<rect x="182.10" y="117.90" width="70.00" height="6.00" fill="#EF464B"/>
<rect x="252.10" y="117.90" width="25.00" height="6.00" fill="#EF5350"/>
<rect x="29.10" y="123.90" width="102.00" height="7.00" fill="#F48D6B"/>
<rect x="131.10" y="123.90" width="25.00" height="7.00" fill="#FBB88C"/>
<rect x="156.10" y="123.90" width="26.00" height="7.00" fill="#F48D6B"/>
<rect x="182.10" y="123.90" width="25.00" height="7.00" fill="#EF5350"/>
<rect x="207.10" y="123.90" width="38.00" height="7.00" fill="#EF464B"/>
<rect x="245.10" y="123.90" width="32.00" height="7.00" fill="#EF5350"/>
<rect x="35.10" y="130.90" width="127.00" height="6.00" fill="#FBB88C"/>
<rect x="162.10" y="130.90" width="20.00" height="6.00" fill="#F48D6B"/>
<rect x="182.10" y="130.90" width="95.00" height="6.00" fill="#EF5350"/>
<rect x="35.10" y="136.90" width="19.00" height="7.00" fill="#FEDDC8"/>
<rect x="54.10" y="136.90" width="38.00" height="7.00" fill="#FBB88C"/>
<rect x="92.10" y="136.90" width="26.00" height="7.00" fill="#FEDDC8"/>
<rect x="137.10" y="136.90" width="13.00" height="7.00" fill="#FEDDC8"/>
<rect x="150.10" y="136.90" width="32.00" height="7.00" fill="#FBB88C"/>
<rect x="182.10" y="136.90" width="25.00" height="7.00" fill="#F48D6B"/>
<rect x="207.10" y="136.90" width="64.00" height="7.00" fill="#EF5350"/>
<rect x="35.10" y="143.90" width="13.00" height="6.00" fill="#FAF69C"/>
<rect x="48.10" y="143.90" width="44.00" height="6.00" fill="#FEDDC8"/>
<rect x="150.10" y="143.90" width="19.00" height="6.00" fill="#FEDDC8"/>
<rect x="169.10" y="143.90" width="13.00" height="6.00" fill="#FBB88C"/>
<rect x="182.10" y="143.90" width="25.00" height="6.00" fill="#F48D6B"/>
<rect x="207.10" y="143.90" width="57.00" height="6.00" fill="#EF5350"/>
<rect x="29.10" y="149.90" width="25.00" height="6.00" fill="#FAF69C"/>
<rect x="54.10" y="149.90" width="13.00" height="6.00" fill="#FEDDC8"/>
<rect x="73.10" y="149.90" width="13.00" height="6.00" fill="#FEDDC8"/>
<rect x="162.10" y="149.90" width="20.00" height="6.00" fill="#FEDDC8"/>
<rect x="182.10" y="149.90" width="25.00" height="6.00" fill="#FBB88C"/>
<rect x="207.10" y="149.90" width="26.00" height="6.00" fill="#F48D6B"/>
<rect x="233.10" y="149.90" width="31.00" height="6.00" fill="#EF5350"/>
<rect x="41.10" y="155.90" width="13.00" height="7.00" fill="#FAF69C"/>
<rect x="182.10" y="155.90" width="25.00" height="7.00" fill="#FEDDC8"/>
<rect x="207.10" y="155.90" width="45.00" height="7.00" fill="#F48D6B"/>
<rect x="252.10" y="155.90" width="6.00" height="7.00" fill="#EF5350"/>
<rect x="182.10" y="162.90" width="25.00" height="6.00" fill="#FEDDC8"/>
<rect x="207.10" y="162.90" width="26.00" height="6.00" fill="#FBB88C"/>
<rect x="233.10" y="162.90" width="25.00" height="6.00" fill="#F48D6B"/>
<rect x="188.10" y="168.90" width="32.00" height="6.00" fill="#FAF69C"/>
<rect x="220.10" y="168.90" width="25.00" height="6.00" fill="#FEDDC8"/>
<rect x="245.10" y="168.90" width="13.00" height="6.00" fill="#FBB88C"/>
<rect x="194.10" y="174.90" width="26.00" height="7.00" fill="#FAF69C"/>
<rect x="220.10" y="174.90" width="25.00" height="7.00" fill="#FEDDC8"/>
<rect x="226.10" y="181.90" width="7.00" height="6.00" fill="#FAF69C"/>
<rect x="213.10" y="187.90" width="7.00" height="7.00" fill="#FAF69C"/>
<rect x="239.10" y="187.90" width="6.00" height="7.00" fill="#FAF69C"/>
<rect x="220.10" y="194.90" width="25.00" height="6.00" fill="#F4EE42"/>
<rect x="220.10" y="200.90" width="25.00" height="6.00" fill="#F4EE42"/>
<rect x="226.10" y="206.90" width="19.00" height="7.00" fill="#F4EE42"/>
</g>
<path d="M-2.8999999999999773,0 V223.1 M3.1000000000000227,0 V223.1 M9.100000000000023,0 V223.1 M16.100000000000023,0 V223.1 M22.100000000000023,0 V223.1 M29.100000000000023,0 V223.1 M35.10000000000002,0 V223.1 M41.10000000000002,0 V223.1 M48.10000000000002,0 V223.1 M54.10000000000002,0 V223.1 M60.10000000000002,0 V223.1 M67.10000000000002,0 V223.1 M73.10000000000002,0 V223.1 M80.10000000000002,0 V223.1 M86.10000000000002,0 V223.1 M92.10000000000002,0 V223.1 M99.10000000000002,0 V223.1 M105.10000000000002,0 V223.1 M111.10000000000002,0 V223.1 M118.10000000000002,0 V223.1 M124.10000000000002,0 V223.1 M131.10000000000002,0 V223.1 M137.10000000000002,0 V223.1 M143.10000000000002,0 V223.1 M150.10000000000002,0 V223.1 M156.10000000000002,0 V223.1 M162.10000000000002,0 V223.1 M169.10000000000002,0 V223.1 M175.10000000000002,0 V223.1 M182.10000000000002,0 V223.1 M188.10000000000002,0 V223.1 M194.10000000000002,0 V223.1 M201.10000000000002,0 V223.1 M207.10000000000002,0 V223.1 M213.10000000000002,0 V223.1 M220.10000000000002,0 V223.1 M226.10000000000002,0 V223.1 M233.10000000000002,0 V223.1 M239.10000000000002,0 V223.1 M245.10000000000002,0 V223.1 M252.10000000000002,0 V223.1 M258.1,0 V223.1 M264.1,0 V223.1 M271.1,0 V223.1 M277.1,0 V223.1 M284.1,0 V223.1 M290.1,0 V223.1 M0,-3.0999999999999996 H286.9 M0,2.9000000000000004 H286.9 M0,9.9 H286.9 M0,15.9 H286.9 M0,21.9 H286.9 M0,28.9 H286.9 M0,34.9 H286.9 M0,41.9 H286.9 M0,47.9 H286.9 M0,53.9 H286.9 M0,60.9 H286.9 M0,66.9 H286.9 M0,72.9 H286.9 M0,79.9 H286.9 M0,85.9 H286.9 M0,92.9 H286.9 M0,98.9 H286.9 M0,104.9 H286.9 M0,111.9 H286.9 M0,117.9 H286.9 M0,123.9 H286.9 M0,130.9 H286.9 M0,136.9 H286.9 M0,143.9 H286.9 M0,149.9 H286.9 M0,155.9 H286.9 M0,162.9 H286.9 M0,168.9 H286.9 M0,174.9 H286.9 M0,181.9 H286.9 M0,187.9 H286.9 M0,194.9 H286.9 M0,200.9 H286.9 M0,206.9 H286.9 M0,213.9 H286.9 M0,219.9 H286.9 M0,225.9 H286.9" stroke="#fff" stroke-opacity="0.08" stroke-width="0.8" fill="none"/>
<path d="M207.2,4.5 L209.1,6.4 L209.7,11.5 L211.6,14.7 L213.6,18.5 L213.6,24.2 L215.5,28.1 L216.8,28.7 L219.9,26.8 L222.5,29.3 L225.0,31.9 L225.0,35.1 L225.7,38.2 L226.3,41.4 L228.2,44.0 L230.1,47.8 L230.1,52.3 L231.4,55.5 L234.6,58.6 L239.1,59.9 L241.0,62.5 L244.2,63.8 L247.4,66.9 L249.9,70.8 L251.8,76.5 L253.7,79.0 L258.2,79.7 L260.1,82.9 L260.1,86.1 L263.3,88.6 L267.1,90.5 L270.3,94.4 L273.5,97.5 L275.4,94.4 L276.0,98.8 L274.8,102.0 L274.8,107.1 L275.4,111.6 L277.3,116.0 L277.9,118.6 L276.7,123.7 L275.4,128.8 L274.1,133.9 L273.5,137.1 L270.9,141.5 L269.0,144.7 L266.5,146.0 L263.3,151.7 L260.7,156.2 L259.5,160.7 L256.3,165.8 L255.0,171.5 L254.4,175.3 L248.6,177.2 L242.2,177.9 L235.9,181.0 L232.1,185.5 L229.5,183.6 L226.3,182.3 L223.1,181.0 L222.5,177.9 L219.3,179.1 L221.2,180.4 L213.6,183.6 L207.2,181.0 L201.4,180.4 L197.0,178.5 L193.2,175.3 L190.0,172.1 L188.7,167.0 L184.9,163.2 L181.7,163.2 L179.1,163.2 L181.7,159.4 L181.7,157.5 L179.1,154.3 L177.9,156.2 L177.2,160.0 L172.1,160.7 L174.7,156.2 L175.3,153.0 L177.9,148.5 L177.2,144.1 L175.3,147.3 L172.1,151.1 L168.3,153.6 L165.1,157.5 L163.2,158.7 L160.6,156.2 L160.6,151.7 L157.5,147.9 L154.3,145.3 L153.6,143.4 L150.4,140.9 L145.4,140.2 L141.5,140.2 L135.1,137.1 L127.5,137.7 L121.1,138.3 L114.8,140.9 L108.4,142.2 L102.0,142.2 L95.6,144.7 L91.2,146.6 L86.7,152.4 L82.9,153.0 L76.5,152.4 L70.1,152.4 L63.8,152.4 L59.3,155.5 L51.0,159.4 L44.6,159.4 L38.2,158.1 L33.2,154.9 L31.9,150.5 L35.7,149.2 L36.3,143.4 L36.3,139.6 L34.4,133.9 L31.9,128.8 L31.2,122.4 L29.3,119.9 L26.8,114.8 L26.1,110.3 L22.9,105.8 L24.2,102.0 L26.8,103.9 L22.3,98.8 L23.6,94.4 L21.7,90.5 L24.2,84.1 L24.2,79.7 L25.5,75.2 L27.4,79.0 L30.0,75.2 L35.1,72.7 L42.7,67.6 L47.8,68.2 L54.8,65.7 L62.5,63.8 L70.1,61.2 L75.2,54.2 L77.8,51.0 L77.8,45.9 L82.2,41.4 L86.7,47.2 L86.7,41.4 L91.8,40.2 L93.1,35.1 L96.9,31.9 L96.9,28.7 L102.0,26.8 L107.1,24.2 L111.6,26.8 L116.0,30.6 L116.0,34.4 L117.9,31.2 L122.4,31.2 L125.6,30.6 L124.9,25.5 L126.9,22.3 L129.4,20.4 L128.8,17.2 L132.6,15.3 L135.1,14.0 L140.2,14.0 L144.1,14.0 L144.1,9.6 L139.6,8.3 L144.7,7.0 L149.8,11.5 L154.3,12.1 L159.4,14.0 L164.5,12.8 L169.6,12.8 L171.5,14.7 L168.9,19.1 L165.8,21.0 L165.1,25.5 L162.6,30.0 L162.6,33.1 L167.7,36.3 L172.1,38.2 L178.5,42.1 L184.9,44.6 L188.7,47.8 L193.8,48.5 L197.0,46.5 L199.5,40.8 L201.4,33.1 L201.4,25.5 L201.4,19.1 L202.7,15.9 L202.7,12.8 L204.6,8.3 L207.2,4.5Z M221.2,195.7 L225.0,196.3 L230.8,198.3 L234.6,197.6 L238.4,197.0 L242.2,196.3 L244.2,197.6 L244.2,202.7 L244.2,205.3 L242.2,208.5 L241.6,211.7 L238.4,209.7 L235.9,212.9 L234.6,214.2 L229.5,213.6 L226.3,209.7 L224.4,205.9 L221.9,200.8 L221.2,195.7Z M169.6,164.5 L174.0,163.2 L179.1,164.5 L175.9,165.8 L170.2,165.8 L169.6,164.5Z M129.4,8.9 L133.2,8.3 L137.1,8.9 L136.4,11.5 L132.0,11.5 L129.4,8.9Z M84.2,-0.6 L86.1,1.9 L88.6,1.6 L91.2,-0.6 M243.5,-0.3 L250.5,0.6 L255.0,1.6 L256.0,3.8 L258.2,4.5 L260.4,2.2 L260.1,-0.6 M256.3,1.0 L258.8,0.6 L258.8,2.9 L256.9,3.2Z" fill="none" stroke="#000" stroke-width="1.5" stroke-linejoin="round"/>
</g>
<rect x="0" y="0" width="286.88" height="223.12" fill="none" stroke="#1a1a1a" stroke-width="1.5"/>
<path d="M63.75,0 v5 M63.75,223.12 v-5 M127.50,0 v5 M127.50,223.12 v-5 M191.25,0 v5 M191.25,223.12 v-5 M255.00,0 v5 M255.00,223.12 v-5 M0,63.75 h5 M286.88,63.75 h-5 M0,127.50 h5 M286.88,127.50 h-5 M0,191.25 h5 M286.88,191.25 h-5" stroke="#1a1a1a" stroke-width="1.3" fill="none"/>
<rect x="0" y="0" width="13.7" height="15.6" fill="#fff" stroke="#1a1a1a" stroke-width="1.3"/>
<text x="6.95" y="13.1" text-anchor="middle" font-size="18.5">c</text>
</g>
<g transform="translate(37.8,254.2)">
<clipPath id="cpb"><rect x="0" y="0" width="286.88" height="223.12"/></clipPath>
<g clip-path="url(#cpb)">
<g filter="url(#bl)" shape-rendering="crispEdges">
<rect x="201.20" y="-3.20" width="6.00" height="6.00" fill="#FBB88C"/>
<rect x="130.20" y="9.80" width="7.00" height="6.00" fill="#F48D6B"/>
<rect x="143.20" y="9.80" width="7.00" height="6.00" fill="#F48D6B"/>
<rect x="150.20" y="9.80" width="19.00" height="6.00" fill="#FBB88C"/>
<rect x="201.20" y="9.80" width="12.00" height="6.00" fill="#FBB88C"/>
<rect x="124.20" y="15.80" width="32.00" height="7.00" fill="#EF5350"/>
<rect x="156.20" y="15.80" width="13.00" height="7.00" fill="#F48D6B"/>
<rect x="201.20" y="15.80" width="12.00" height="7.00" fill="#FBB88C"/>
<rect x="99.20" y="22.80" width="12.00" height="6.00" fill="#EF5350"/>
<rect x="124.20" y="22.80" width="26.00" height="6.00" fill="#EF464B"/>
<rect x="150.20" y="22.80" width="19.00" height="6.00" fill="#EF5350"/>
<rect x="201.20" y="22.80" width="6.00" height="6.00" fill="#F48D6B"/>
<rect x="207.20" y="22.80" width="6.00" height="6.00" fill="#FBB88C"/>
<rect x="92.20" y="28.80" width="7.00" height="6.00" fill="#EF5350"/>
<rect x="99.20" y="28.80" width="57.00" height="6.00" fill="#EF464B"/>
<rect x="156.20" y="28.80" width="6.00" height="6.00" fill="#EF5350"/>
<rect x="201.20" y="28.80" width="19.00" height="6.00" fill="#F48D6B"/>
<rect x="220.20" y="28.80" width="6.00" height="6.00" fill="#FBB88C"/>
<rect x="86.20" y="34.80" width="6.00" height="7.00" fill="#EF5350"/>
<rect x="92.20" y="34.80" width="26.00" height="7.00" fill="#EF464B"/>
<rect x="118.20" y="34.80" width="44.00" height="7.00" fill="#ED2E3C"/>
<rect x="162.20" y="34.80" width="13.00" height="7.00" fill="#EF464B"/>
<rect x="201.20" y="34.80" width="6.00" height="7.00" fill="#EF5350"/>
<rect x="207.20" y="34.80" width="19.00" height="7.00" fill="#F48D6B"/>
<rect x="79.20" y="41.80" width="7.00" height="6.00" fill="#EF5350"/>
<rect x="86.20" y="41.80" width="19.00" height="6.00" fill="#EF464B"/>
<rect x="105.20" y="41.80" width="64.00" height="6.00" fill="#ED2E3C"/>
<rect x="169.20" y="41.80" width="12.00" height="6.00" fill="#EF464B"/>
<rect x="181.20" y="41.80" width="7.00" height="6.00" fill="#EF5350"/>
<rect x="194.20" y="41.80" width="13.00" height="6.00" fill="#EF5350"/>
<rect x="207.20" y="41.80" width="25.00" height="6.00" fill="#F48D6B"/>
<rect x="79.20" y="47.80" width="13.00" height="6.00" fill="#EF464B"/>
<rect x="92.20" y="47.80" width="26.00" height="6.00" fill="#ED2E3C"/>
<rect x="118.20" y="47.80" width="38.00" height="6.00" fill="#D62136"/>
<rect x="156.20" y="47.80" width="25.00" height="6.00" fill="#ED2E3C"/>
<rect x="181.20" y="47.80" width="13.00" height="6.00" fill="#EF464B"/>
<rect x="194.20" y="47.80" width="13.00" height="6.00" fill="#EF5350"/>
<rect x="207.20" y="47.80" width="25.00" height="6.00" fill="#F48D6B"/>
<rect x="73.20" y="53.80" width="6.00" height="7.00" fill="#EF464B"/>
<rect x="79.20" y="53.80" width="13.00" height="7.00" fill="#ED2E3C"/>
<rect x="92.20" y="53.80" width="70.00" height="7.00" fill="#D62136"/>
<rect x="162.20" y="53.80" width="32.00" height="7.00" fill="#ED2E3C"/>
<rect x="194.20" y="53.80" width="13.00" height="7.00" fill="#EF464B"/>
<rect x="207.20" y="53.80" width="13.00" height="7.00" fill="#EF5350"/>
<rect x="220.20" y="53.80" width="19.00" height="7.00" fill="#F48D6B"/>
<rect x="54.20" y="60.80" width="13.00" height="6.00" fill="#EF464B"/>
<rect x="67.20" y="60.80" width="12.00" height="6.00" fill="#ED2E3C"/>
<rect x="79.20" y="60.80" width="77.00" height="6.00" fill="#D62136"/>
<rect x="156.20" y="60.80" width="45.00" height="6.00" fill="#ED2E3C"/>
<rect x="201.20" y="60.80" width="12.00" height="6.00" fill="#EF464B"/>
<rect x="213.20" y="60.80" width="13.00" height="6.00" fill="#EF5350"/>
<rect x="226.20" y="60.80" width="26.00" height="6.00" fill="#F48D6B"/>
<rect x="35.20" y="66.80" width="6.00" height="7.00" fill="#EF464B"/>
<rect x="41.20" y="66.80" width="26.00" height="7.00" fill="#ED2E3C"/>
<rect x="67.20" y="66.80" width="89.00" height="7.00" fill="#D62136"/>
<rect x="156.20" y="66.80" width="51.00" height="7.00" fill="#ED2E3C"/>
<rect x="207.20" y="66.80" width="13.00" height="7.00" fill="#EF464B"/>
<rect x="220.20" y="66.80" width="12.00" height="7.00" fill="#EF5350"/>
<rect x="232.20" y="66.80" width="20.00" height="7.00" fill="#F48D6B"/>
<rect x="22.20" y="73.80" width="6.00" height="6.00" fill="#EF5350"/>
<rect x="28.20" y="73.80" width="7.00" height="6.00" fill="#EF464B"/>
<rect x="35.20" y="73.80" width="13.00" height="6.00" fill="#ED2E3C"/>
<rect x="48.20" y="73.80" width="121.00" height="6.00" fill="#D62136"/>
<rect x="169.20" y="73.80" width="44.00" height="6.00" fill="#ED2E3C"/>
<rect x="213.20" y="73.80" width="13.00" height="6.00" fill="#EF464B"/>
<rect x="226.20" y="73.80" width="13.00" height="6.00" fill="#EF5350"/>
<rect x="239.20" y="73.80" width="19.00" height="6.00" fill="#F48D6B"/>
<rect x="22.20" y="79.80" width="6.00" height="6.00" fill="#EF5350"/>
<rect x="28.20" y="79.80" width="7.00" height="6.00" fill="#EF464B"/>
<rect x="35.20" y="79.80" width="6.00" height="6.00" fill="#ED2E3C"/>
<rect x="41.20" y="79.80" width="147.00" height="6.00" fill="#D62136"/>
<rect x="188.20" y="79.80" width="32.00" height="6.00" fill="#ED2E3C"/>
<rect x="220.20" y="79.80" width="12.00" height="6.00" fill="#EF464B"/>
<rect x="232.20" y="79.80" width="20.00" height="6.00" fill="#EF5350"/>
<rect x="252.20" y="79.80" width="12.00" height="6.00" fill="#F48D6B"/>
<rect x="22.20" y="85.80" width="6.00" height="7.00" fill="#EF5350"/>
<rect x="28.20" y="85.80" width="7.00" height="7.00" fill="#ED2E3C"/>
<rect x="35.20" y="85.80" width="178.00" height="7.00" fill="#D62136"/>
<rect x="213.20" y="85.80" width="19.00" height="7.00" fill="#ED2E3C"/>
<rect x="232.20" y="85.80" width="13.00" height="7.00" fill="#EF464B"/>
<rect x="245.20" y="85.80" width="13.00" height="7.00" fill="#EF5350"/>
<rect x="258.20" y="85.80" width="6.00" height="7.00" fill="#F48D6B"/>
<rect x="16.20" y="92.80" width="12.00" height="6.00" fill="#EF5350"/>
<rect x="28.20" y="92.80" width="7.00" height="6.00" fill="#ED2E3C"/>
<rect x="35.20" y="92.80" width="102.00" height="6.00" fill="#D62136"/>
<rect x="137.20" y="92.80" width="32.00" height="6.00" fill="#ED2E3C"/>
<rect x="169.20" y="92.80" width="44.00" height="6.00" fill="#D62136"/>
<rect x="213.20" y="92.80" width="26.00" height="6.00" fill="#ED2E3C"/>
<rect x="239.20" y="92.80" width="13.00" height="6.00" fill="#EF464B"/>
<rect x="252.20" y="92.80" width="19.00" height="6.00" fill="#EF5350"/>
<rect x="271.20" y="92.80" width="6.00" height="6.00" fill="#F48D6B"/>
<rect x="16.20" y="98.80" width="6.00" height="6.00" fill="#EF5350"/>
<rect x="22.20" y="98.80" width="6.00" height="6.00" fill="#EF464B"/>
<rect x="28.20" y="98.80" width="13.00" height="6.00" fill="#ED2E3C"/>
<rect x="41.20" y="98.80" width="26.00" height="6.00" fill="#D62136"/>
<rect x="67.20" y="98.80" width="108.00" height="6.00" fill="#ED2E3C"/>
<rect x="175.20" y="98.80" width="38.00" height="6.00" fill="#D62136"/>
<rect x="213.20" y="98.80" width="32.00" height="6.00" fill="#ED2E3C"/>
<rect x="245.20" y="98.80" width="13.00" height="6.00" fill="#EF464B"/>
<rect x="258.20" y="98.80" width="13.00" height="6.00" fill="#EF5350"/>
<rect x="271.20" y="98.80" width="6.00" height="6.00" fill="#F48D6B"/>
<rect x="22.20" y="104.80" width="6.00" height="7.00" fill="#EF5350"/>
<rect x="28.20" y="104.80" width="7.00" height="7.00" fill="#EF464B"/>
<rect x="35.20" y="104.80" width="13.00" height="7.00" fill="#ED2E3C"/>
<rect x="48.20" y="104.80" width="6.00" height="7.00" fill="#D62136"/>
<rect x="54.20" y="104.80" width="134.00" height="7.00" fill="#ED2E3C"/>
<rect x="188.20" y="104.80" width="19.00" height="7.00" fill="#D62136"/>
<rect x="207.20" y="104.80" width="38.00" height="7.00" fill="#ED2E3C"/>
<rect x="245.20" y="104.80" width="13.00" height="7.00" fill="#EF464B"/>
<rect x="258.20" y="104.80" width="19.00" height="7.00" fill="#EF5350"/>
<rect x="22.20" y="111.80" width="6.00" height="6.00" fill="#EF5350"/>
<rect x="28.20" y="111.80" width="7.00" height="6.00" fill="#EF464B"/>
<rect x="35.20" y="111.80" width="19.00" height="6.00" fill="#ED2E3C"/>
<rect x="54.20" y="111.80" width="115.00" height="6.00" fill="#EF464B"/>
<rect x="169.20" y="111.80" width="70.00" height="6.00" fill="#ED2E3C"/>
<rect x="239.20" y="111.80" width="19.00" height="6.00" fill="#EF464B"/>
<rect x="258.20" y="111.80" width="19.00" height="6.00" fill="#EF5350"/>
<rect x="28.20" y="117.80" width="7.00" height="7.00" fill="#EF5350"/>
<rect x="35.20" y="117.80" width="38.00" height="7.00" fill="#EF464B"/>
<rect x="73.20" y="117.80" width="89.00" height="7.00" fill="#EF5350"/>
<rect x="162.20" y="117.80" width="39.00" height="7.00" fill="#EF464B"/>
<rect x="201.20" y="117.80" width="38.00" height="7.00" fill="#ED2E3C"/>
<rect x="239.20" y="117.80" width="19.00" height="7.00" fill="#EF464B"/>
<rect x="258.20" y="117.80" width="19.00" height="7.00" fill="#EF5350"/>
<rect x="28.20" y="124.80" width="7.00" height="6.00" fill="#EF5350"/>
<rect x="35.20" y="124.80" width="19.00" height="6.00" fill="#EF464B"/>
<rect x="54.20" y="124.80" width="32.00" height="6.00" fill="#EF5350"/>
<rect x="86.20" y="124.80" width="64.00" height="6.00" fill="#F48D6B"/>
<rect x="150.20" y="124.80" width="19.00" height="6.00" fill="#EF5350"/>
<rect x="169.20" y="124.80" width="38.00" height="6.00" fill="#EF464B"/>
<rect x="207.20" y="124.80" width="32.00" height="6.00" fill="#ED2E3C"/>
<rect x="239.20" y="124.80" width="13.00" height="6.00" fill="#EF464B"/>
<rect x="252.20" y="124.80" width="25.00" height="6.00" fill="#EF5350"/>
<rect x="35.20" y="130.80" width="25.00" height="6.00" fill="#EF5350"/>
<rect x="60.20" y="130.80" width="26.00" height="6.00" fill="#F48D6B"/>
<rect x="86.20" y="130.80" width="32.00" height="6.00" fill="#FBB88C"/>
<rect x="118.20" y="130.80" width="6.00" height="6.00" fill="#FEDDC8"/>
<rect x="124.20" y="130.80" width="19.00" height="6.00" fill="#FBB88C"/>
<rect x="143.20" y="130.80" width="13.00" height="6.00" fill="#F48D6B"/>
<rect x="156.20" y="130.80" width="13.00" height="6.00" fill="#EF5350"/>
<rect x="169.20" y="130.80" width="51.00" height="6.00" fill="#EF464B"/>
<rect x="220.20" y="130.80" width="19.00" height="6.00" fill="#ED2E3C"/>
<rect x="239.20" y="130.80" width="13.00" height="6.00" fill="#EF464B"/>
<rect x="252.20" y="130.80" width="25.00" height="6.00" fill="#EF5350"/>
<rect x="35.20" y="136.80" width="25.00" height="7.00" fill="#F48D6B"/>
<rect x="60.20" y="136.80" width="26.00" height="7.00" fill="#FBB88C"/>
<rect x="86.20" y="136.80" width="13.00" height="7.00" fill="#FEDDC8"/>
<rect x="99.20" y="136.80" width="19.00" height="7.00" fill="#FBB88C"/>
<rect x="137.20" y="136.80" width="13.00" height="7.00" fill="#FBB88C"/>
<rect x="150.20" y="136.80" width="12.00" height="7.00" fill="#F48D6B"/>
<rect x="162.20" y="136.80" width="13.00" height="7.00" fill="#EF5350"/>
<rect x="175.20" y="136.80" width="77.00" height="7.00" fill="#EF464B"/>
<rect x="252.20" y="136.80" width="19.00" height="7.00" fill="#EF5350"/>
<rect x="35.20" y="143.80" width="13.00" height="6.00" fill="#F48D6B"/>
<rect x="48.20" y="143.80" width="31.00" height="6.00" fill="#FBB88C"/>
<rect x="79.20" y="143.80" width="7.00" height="6.00" fill="#FEDDC8"/>
<rect x="86.20" y="143.80" width="6.00" height="6.00" fill="#FBB88C"/>
<rect x="150.20" y="143.80" width="12.00" height="6.00" fill="#FBB88C"/>
<rect x="162.20" y="143.80" width="13.00" height="6.00" fill="#F48D6B"/>
<rect x="175.20" y="143.80" width="13.00" height="6.00" fill="#EF5350"/>
<rect x="188.20" y="143.80" width="57.00" height="6.00" fill="#EF464B"/>
<rect x="245.20" y="143.80" width="19.00" height="6.00" fill="#EF5350"/>
<rect x="28.20" y="149.80" width="39.00" height="6.00" fill="#FBB88C"/>
<rect x="73.20" y="149.80" width="13.00" height="6.00" fill="#FBB88C"/>
<rect x="162.20" y="149.80" width="19.00" height="6.00" fill="#FBB88C"/>
<rect x="181.20" y="149.80" width="13.00" height="6.00" fill="#F48D6B"/>
<rect x="194.20" y="149.80" width="13.00" height="6.00" fill="#EF5350"/>
<rect x="207.20" y="149.80" width="38.00" height="6.00" fill="#EF464B"/>
<rect x="245.20" y="149.80" width="19.00" height="6.00" fill="#EF5350"/>
<rect x="41.20" y="155.80" width="13.00" height="7.00" fill="#FBB88C"/>
<rect x="181.20" y="155.80" width="13.00" height="7.00" fill="#FBB88C"/>
<rect x="194.20" y="155.80" width="7.00" height="7.00" fill="#F48D6B"/>
<rect x="201.20" y="155.80" width="12.00" height="7.00" fill="#EF5350"/>
<rect x="213.20" y="155.80" width="39.00" height="7.00" fill="#EF464B"/>
<rect x="252.20" y="155.80" width="6.00" height="7.00" fill="#EF5350"/>
<rect x="181.20" y="162.80" width="20.00" height="6.00" fill="#FBB88C"/>
<rect x="201.20" y="162.80" width="6.00" height="6.00" fill="#F48D6B"/>
<rect x="207.20" y="162.80" width="13.00" height="6.00" fill="#EF5350"/>
<rect x="220.20" y="162.80" width="32.00" height="6.00" fill="#EF464B"/>
<rect x="252.20" y="162.80" width="6.00" height="6.00" fill="#EF5350"/>
<rect x="188.20" y="168.80" width="6.00" height="7.00" fill="#FBB88C"/>
<rect x="194.20" y="168.80" width="7.00" height="7.00" fill="#FEDDC8"/>
<rect x="201.20" y="168.80" width="6.00" height="7.00" fill="#FBB88C"/>
<rect x="207.20" y="168.80" width="6.00" height="7.00" fill="#F48D6B"/>
<rect x="213.20" y="168.80" width="13.00" height="7.00" fill="#EF5350"/>
<rect x="226.20" y="168.80" width="26.00" height="7.00" fill="#EF464B"/>
<rect x="252.20" y="168.80" width="6.00" height="7.00" fill="#EF5350"/>
<rect x="194.20" y="175.80" width="13.00" height="6.00" fill="#FBB88C"/>
<rect x="207.20" y="175.80" width="13.00" height="6.00" fill="#F48D6B"/>
<rect x="220.20" y="175.80" width="6.00" height="6.00" fill="#EF5350"/>
<rect x="226.20" y="175.80" width="19.00" height="6.00" fill="#EF464B"/>
<rect x="226.20" y="181.80" width="6.00" height="6.00" fill="#F48D6B"/>
<rect x="213.20" y="187.80" width="7.00" height="7.00" fill="#FEDDC8"/>
<rect x="239.20" y="187.80" width="6.00" height="7.00" fill="#FBB88C"/>
<rect x="220.20" y="194.80" width="25.00" height="6.00" fill="#FEDDC8"/>
<rect x="220.20" y="200.80" width="25.00" height="6.00" fill="#FEDDC8"/>
<rect x="226.20" y="206.80" width="13.00" height="7.00" fill="#FAF69C"/>
<rect x="239.20" y="206.80" width="6.00" height="7.00" fill="#FEDDC8"/>
</g>
<path d="M-2.799999999999997,0 V223.1 M3.200000000000003,0 V223.1 M9.200000000000003,0 V223.1 M16.200000000000003,0 V223.1 M22.200000000000003,0 V223.1 M28.200000000000003,0 V223.1 M35.2,0 V223.1 M41.2,0 V223.1 M48.2,0 V223.1 M54.2,0 V223.1 M60.2,0 V223.1 M67.2,0 V223.1 M73.2,0 V223.1 M79.2,0 V223.1 M86.2,0 V223.1 M92.2,0 V223.1 M99.2,0 V223.1 M105.2,0 V223.1 M111.2,0 V223.1 M118.2,0 V223.1 M124.2,0 V223.1 M130.2,0 V223.1 M137.2,0 V223.1 M143.2,0 V223.1 M150.2,0 V223.1 M156.2,0 V223.1 M162.2,0 V223.1 M169.2,0 V223.1 M175.2,0 V223.1 M181.2,0 V223.1 M188.2,0 V223.1 M194.2,0 V223.1 M201.2,0 V223.1 M207.2,0 V223.1 M213.2,0 V223.1 M220.2,0 V223.1 M226.2,0 V223.1 M232.2,0 V223.1 M239.2,0 V223.1 M245.2,0 V223.1 M252.2,0 V223.1 M258.2,0 V223.1 M264.2,0 V223.1 M271.2,0 V223.1 M277.2,0 V223.1 M283.2,0 V223.1 M290.2,0 V223.1 M0,-3.1999999999999886 H286.9 M0,2.8000000000000114 H286.9 M0,9.800000000000011 H286.9 M0,15.800000000000011 H286.9 M0,22.80000000000001 H286.9 M0,28.80000000000001 H286.9 M0,34.80000000000001 H286.9 M0,41.80000000000001 H286.9 M0,47.80000000000001 H286.9 M0,53.80000000000001 H286.9 M0,60.80000000000001 H286.9 M0,66.80000000000001 H286.9 M0,73.80000000000001 H286.9 M0,79.80000000000001 H286.9 M0,85.80000000000001 H286.9 M0,92.80000000000001 H286.9 M0,98.80000000000001 H286.9 M0,104.80000000000001 H286.9 M0,111.80000000000001 H286.9 M0,117.80000000000001 H286.9 M0,124.80000000000001 H286.9 M0,130.8 H286.9 M0,136.8 H286.9 M0,143.8 H286.9 M0,149.8 H286.9 M0,155.8 H286.9 M0,162.8 H286.9 M0,168.8 H286.9 M0,175.8 H286.9 M0,181.8 H286.9 M0,187.8 H286.9 M0,194.8 H286.9 M0,200.8 H286.9 M0,206.8 H286.9 M0,213.8 H286.9 M0,219.8 H286.9 M0,226.8 H286.9" stroke="#fff" stroke-opacity="0.08" stroke-width="0.8" fill="none"/>
<path d="M207.2,4.5 L209.1,6.4 L209.7,11.5 L211.6,14.7 L213.6,18.5 L213.6,24.2 L215.5,28.1 L216.8,28.7 L219.9,26.8 L222.5,29.3 L225.0,31.9 L225.0,35.1 L225.7,38.2 L226.3,41.4 L228.2,44.0 L230.1,47.8 L230.1,52.3 L231.4,55.5 L234.6,58.6 L239.1,59.9 L241.0,62.5 L244.2,63.8 L247.4,66.9 L249.9,70.8 L251.8,76.5 L253.7,79.0 L258.2,79.7 L260.1,82.9 L260.1,86.1 L263.3,88.6 L267.1,90.5 L270.3,94.4 L273.5,97.5 L275.4,94.4 L276.0,98.8 L274.8,102.0 L274.8,107.1 L275.4,111.6 L277.3,116.0 L277.9,118.6 L276.7,123.7 L275.4,128.8 L274.1,133.9 L273.5,137.1 L270.9,141.5 L269.0,144.7 L266.5,146.0 L263.3,151.7 L260.7,156.2 L259.5,160.7 L256.3,165.8 L255.0,171.5 L254.4,175.3 L248.6,177.2 L242.2,177.9 L235.9,181.0 L232.1,185.5 L229.5,183.6 L226.3,182.3 L223.1,181.0 L222.5,177.9 L219.3,179.1 L221.2,180.4 L213.6,183.6 L207.2,181.0 L201.4,180.4 L197.0,178.5 L193.2,175.3 L190.0,172.1 L188.7,167.0 L184.9,163.2 L181.7,163.2 L179.1,163.2 L181.7,159.4 L181.7,157.5 L179.1,154.3 L177.9,156.2 L177.2,160.0 L172.1,160.7 L174.7,156.2 L175.3,153.0 L177.9,148.5 L177.2,144.1 L175.3,147.3 L172.1,151.1 L168.3,153.6 L165.1,157.5 L163.2,158.7 L160.6,156.2 L160.6,151.7 L157.5,147.9 L154.3,145.3 L153.6,143.4 L150.4,140.9 L145.4,140.2 L141.5,140.2 L135.1,137.1 L127.5,137.7 L121.1,138.3 L114.8,140.9 L108.4,142.2 L102.0,142.2 L95.6,144.7 L91.2,146.6 L86.7,152.4 L82.9,153.0 L76.5,152.4 L70.1,152.4 L63.8,152.4 L59.3,155.5 L51.0,159.4 L44.6,159.4 L38.2,158.1 L33.2,154.9 L31.9,150.5 L35.7,149.2 L36.3,143.4 L36.3,139.6 L34.4,133.9 L31.9,128.8 L31.2,122.4 L29.3,119.9 L26.8,114.8 L26.1,110.3 L22.9,105.8 L24.2,102.0 L26.8,103.9 L22.3,98.8 L23.6,94.4 L21.7,90.5 L24.2,84.1 L24.2,79.7 L25.5,75.2 L27.4,79.0 L30.0,75.2 L35.1,72.7 L42.7,67.6 L47.8,68.2 L54.8,65.7 L62.5,63.8 L70.1,61.2 L75.2,54.2 L77.8,51.0 L77.8,45.9 L82.2,41.4 L86.7,47.2 L86.7,41.4 L91.8,40.2 L93.1,35.1 L96.9,31.9 L96.9,28.7 L102.0,26.8 L107.1,24.2 L111.6,26.8 L116.0,30.6 L116.0,34.4 L117.9,31.2 L122.4,31.2 L125.6,30.6 L124.9,25.5 L126.9,22.3 L129.4,20.4 L128.8,17.2 L132.6,15.3 L135.1,14.0 L140.2,14.0 L144.1,14.0 L144.1,9.6 L139.6,8.3 L144.7,7.0 L149.8,11.5 L154.3,12.1 L159.4,14.0 L164.5,12.8 L169.6,12.8 L171.5,14.7 L168.9,19.1 L165.8,21.0 L165.1,25.5 L162.6,30.0 L162.6,33.1 L167.7,36.3 L172.1,38.2 L178.5,42.1 L184.9,44.6 L188.7,47.8 L193.8,48.5 L197.0,46.5 L199.5,40.8 L201.4,33.1 L201.4,25.5 L201.4,19.1 L202.7,15.9 L202.7,12.8 L204.6,8.3 L207.2,4.5Z M221.2,195.7 L225.0,196.3 L230.8,198.3 L234.6,197.6 L238.4,197.0 L242.2,196.3 L244.2,197.6 L244.2,202.7 L244.2,205.3 L242.2,208.5 L241.6,211.7 L238.4,209.7 L235.9,212.9 L234.6,214.2 L229.5,213.6 L226.3,209.7 L224.4,205.9 L221.9,200.8 L221.2,195.7Z M169.6,164.5 L174.0,163.2 L179.1,164.5 L175.9,165.8 L170.2,165.8 L169.6,164.5Z M129.4,8.9 L133.2,8.3 L137.1,8.9 L136.4,11.5 L132.0,11.5 L129.4,8.9Z M84.2,-0.6 L86.1,1.9 L88.6,1.6 L91.2,-0.6 M243.5,-0.3 L250.5,0.6 L255.0,1.6 L256.0,3.8 L258.2,4.5 L260.4,2.2 L260.1,-0.6 M256.3,1.0 L258.8,0.6 L258.8,2.9 L256.9,3.2Z" fill="none" stroke="#000" stroke-width="1.5" stroke-linejoin="round"/>
</g>
<rect x="0" y="0" width="286.88" height="223.12" fill="none" stroke="#1a1a1a" stroke-width="1.5"/>
<path d="M63.75,0 v5 M63.75,223.12 v-5 M127.50,0 v5 M127.50,223.12 v-5 M191.25,0 v5 M191.25,223.12 v-5 M255.00,0 v5 M255.00,223.12 v-5 M0,63.75 h5 M286.88,63.75 h-5 M0,127.50 h5 M286.88,127.50 h-5 M0,191.25 h5 M286.88,191.25 h-5" stroke="#1a1a1a" stroke-width="1.3" fill="none"/>
<rect x="0" y="0" width="13.6" height="18.6" fill="#fff" stroke="#1a1a1a" stroke-width="1.3"/>
<text x="6.90" y="16.0" text-anchor="middle" font-size="18.5">b</text>
<text class="tl" transform="translate(-8.4,67.95) scale(0.96,1)" text-anchor="end">20S</text>
<text class="tl" transform="translate(-8.4,131.70) scale(0.96,1)" text-anchor="end">30S</text>
<text class="tl" transform="translate(-8.4,195.45) scale(0.96,1)" text-anchor="end">40S</text>
<text class="tl" transform="translate(0.00,240.82) scale(0.96,1)" text-anchor="middle">110E</text>
<text class="tl" transform="translate(63.75,240.82) scale(0.96,1)" text-anchor="middle">120E</text>
<text class="tl" transform="translate(127.50,240.82) scale(0.96,1)" text-anchor="middle">130E</text>
<text class="tl" transform="translate(191.25,240.82) scale(0.96,1)" text-anchor="middle">140E</text>
<text class="tl" transform="translate(255.00,240.82) scale(0.96,1)" text-anchor="middle">150E</text>
</g>
<g transform="translate(341.9,254.2)">
<clipPath id="cpd"><rect x="0" y="0" width="286.88" height="223.12"/></clipPath>
<g clip-path="url(#cpd)">
<g filter="url(#bl)" shape-rendering="crispEdges">
<rect x="201.10" y="-3.20" width="6.00" height="6.00" fill="#FBB88C"/>
<rect x="131.10" y="9.80" width="6.00" height="6.00" fill="#F48D6B"/>
<rect x="143.10" y="9.80" width="13.00" height="6.00" fill="#F48D6B"/>
<rect x="156.10" y="9.80" width="13.00" height="6.00" fill="#FBB88C"/>
<rect x="201.10" y="9.80" width="6.00" height="6.00" fill="#FBB88C"/>
<rect x="207.10" y="9.80" width="6.00" height="6.00" fill="#FEDDC8"/>
<rect x="124.10" y="15.80" width="26.00" height="7.00" fill="#EF5350"/>
<rect x="150.10" y="15.80" width="6.00" height="7.00" fill="#F48D6B"/>
<rect x="156.10" y="15.80" width="13.00" height="7.00" fill="#FBB88C"/>
<rect x="201.10" y="15.80" width="6.00" height="7.00" fill="#FBB88C"/>
<rect x="207.10" y="15.80" width="6.00" height="7.00" fill="#FEDDC8"/>
<rect x="99.10" y="22.80" width="12.00" height="6.00" fill="#EF5350"/>
<rect x="124.10" y="22.80" width="38.00" height="6.00" fill="#EF5350"/>
<rect x="162.10" y="22.80" width="7.00" height="6.00" fill="#F48D6B"/>
<rect x="201.10" y="22.80" width="6.00" height="6.00" fill="#FBB88C"/>
<rect x="207.10" y="22.80" width="6.00" height="6.00" fill="#FEDDC8"/>
<rect x="92.10" y="28.80" width="26.00" height="6.00" fill="#EF5350"/>
<rect x="118.10" y="28.80" width="38.00" height="6.00" fill="#EF464B"/>
<rect x="156.10" y="28.80" width="6.00" height="6.00" fill="#EF5350"/>
<rect x="201.10" y="28.80" width="12.00" height="6.00" fill="#FBB88C"/>
<rect x="213.10" y="28.80" width="13.00" height="6.00" fill="#FEDDC8"/>
<rect x="86.10" y="34.80" width="19.00" height="7.00" fill="#EF5350"/>
<rect x="105.10" y="34.80" width="64.00" height="7.00" fill="#EF464B"/>
<rect x="169.10" y="34.80" width="6.00" height="7.00" fill="#EF5350"/>
<rect x="201.10" y="34.80" width="6.00" height="7.00" fill="#F48D6B"/>
<rect x="207.10" y="34.80" width="6.00" height="7.00" fill="#FBB88C"/>
<rect x="213.10" y="34.80" width="13.00" height="7.00" fill="#FEDDC8"/>
<rect x="80.10" y="41.80" width="6.00" height="6.00" fill="#EF5350"/>
<rect x="86.10" y="41.80" width="19.00" height="6.00" fill="#EF464B"/>
<rect x="105.10" y="41.80" width="57.00" height="6.00" fill="#ED2E3C"/>
<rect x="162.10" y="41.80" width="20.00" height="6.00" fill="#EF464B"/>
<rect x="182.10" y="41.80" width="6.00" height="6.00" fill="#EF5350"/>
<rect x="194.10" y="41.80" width="13.00" height="6.00" fill="#EF5350"/>
<rect x="207.10" y="41.80" width="6.00" height="6.00" fill="#F48D6B"/>
<rect x="213.10" y="41.80" width="7.00" height="6.00" fill="#FBB88C"/>
<rect x="220.10" y="41.80" width="13.00" height="6.00" fill="#FEDDC8"/>
<rect x="80.10" y="47.80" width="12.00" height="6.00" fill="#EF464B"/>
<rect x="92.10" y="47.80" width="19.00" height="6.00" fill="#ED2E3C"/>
<rect x="111.10" y="47.80" width="13.00" height="6.00" fill="#D62136"/>
<rect x="124.10" y="47.80" width="38.00" height="6.00" fill="#ED2E3C"/>
<rect x="162.10" y="47.80" width="32.00" height="6.00" fill="#EF464B"/>
<rect x="194.10" y="47.80" width="19.00" height="6.00" fill="#EF5350"/>
<rect x="213.10" y="47.80" width="7.00" height="6.00" fill="#F48D6B"/>
<rect x="220.10" y="47.80" width="13.00" height="6.00" fill="#FBB88C"/>
<rect x="73.10" y="53.80" width="7.00" height="7.00" fill="#EF464B"/>
<rect x="80.10" y="53.80" width="6.00" height="7.00" fill="#ED2E3C"/>
<rect x="86.10" y="53.80" width="70.00" height="7.00" fill="#D62136"/>
<rect x="156.10" y="53.80" width="19.00" height="7.00" fill="#ED2E3C"/>
<rect x="175.10" y="53.80" width="26.00" height="7.00" fill="#EF464B"/>
<rect x="201.10" y="53.80" width="19.00" height="7.00" fill="#EF5350"/>
<rect x="220.10" y="53.80" width="6.00" height="7.00" fill="#F48D6B"/>
<rect x="226.10" y="53.80" width="7.00" height="7.00" fill="#FBB88C"/>
<rect x="233.10" y="53.80" width="6.00" height="7.00" fill="#FEDDC8"/>
<rect x="54.10" y="60.80" width="19.00" height="6.00" fill="#ED2E3C"/>
<rect x="73.10" y="60.80" width="89.00" height="6.00" fill="#D62136"/>
<rect x="162.10" y="60.80" width="39.00" height="6.00" fill="#ED2E3C"/>
<rect x="201.10" y="60.80" width="19.00" height="6.00" fill="#EF464B"/>
<rect x="220.10" y="60.80" width="6.00" height="6.00" fill="#EF5350"/>
<rect x="226.10" y="60.80" width="7.00" height="6.00" fill="#F48D6B"/>
<rect x="233.10" y="60.80" width="6.00" height="6.00" fill="#FBB88C"/>
<rect x="239.10" y="60.80" width="13.00" height="6.00" fill="#FEDDC8"/>
<rect x="35.10" y="66.80" width="6.00" height="7.00" fill="#ED2E3C"/>
<rect x="41.10" y="66.80" width="13.00" height="7.00" fill="#D62136"/>
<rect x="54.10" y="66.80" width="38.00" height="7.00" fill="#BE202E"/>
<rect x="92.10" y="66.80" width="7.00" height="7.00" fill="#971A1E"/>
<rect x="99.10" y="66.80" width="38.00" height="7.00" fill="#BE202E"/>
<rect x="137.10" y="66.80" width="64.00" height="7.00" fill="#D62136"/>
<rect x="201.10" y="66.80" width="12.00" height="7.00" fill="#ED2E3C"/>
<rect x="213.10" y="66.80" width="13.00" height="7.00" fill="#EF464B"/>
<rect x="226.10" y="66.80" width="7.00" height="7.00" fill="#EF5350"/>
<rect x="233.10" y="66.80" width="6.00" height="7.00" fill="#F48D6B"/>
<rect x="239.10" y="66.80" width="13.00" height="7.00" fill="#FBB88C"/>
<rect x="22.10" y="73.80" width="7.00" height="6.00" fill="#EF464B"/>
<rect x="29.10" y="73.80" width="6.00" height="6.00" fill="#ED2E3C"/>
<rect x="35.10" y="73.80" width="6.00" height="6.00" fill="#D62136"/>
<rect x="41.10" y="73.80" width="7.00" height="6.00" fill="#BE202E"/>
<rect x="48.10" y="73.80" width="63.00" height="6.00" fill="#971A1E"/>
<rect x="111.10" y="73.80" width="64.00" height="6.00" fill="#BE202E"/>
<rect x="175.10" y="73.80" width="38.00" height="6.00" fill="#D62136"/>
<rect x="213.10" y="73.80" width="13.00" height="6.00" fill="#ED2E3C"/>
<rect x="226.10" y="73.80" width="7.00" height="6.00" fill="#EF464B"/>
<rect x="233.10" y="73.80" width="6.00" height="6.00" fill="#EF5350"/>
<rect x="239.10" y="73.80" width="13.00" height="6.00" fill="#F48D6B"/>
<rect x="252.10" y="73.80" width="6.00" height="6.00" fill="#FBB88C"/>
<rect x="22.10" y="79.80" width="7.00" height="6.00" fill="#EF464B"/>
<rect x="29.10" y="79.80" width="6.00" height="6.00" fill="#D62136"/>
<rect x="35.10" y="79.80" width="6.00" height="6.00" fill="#BE202E"/>
<rect x="41.10" y="79.80" width="77.00" height="6.00" fill="#971A1E"/>
<rect x="118.10" y="79.80" width="89.00" height="6.00" fill="#BE202E"/>
<rect x="207.10" y="79.80" width="19.00" height="6.00" fill="#D62136"/>
<rect x="226.10" y="79.80" width="7.00" height="6.00" fill="#ED2E3C"/>
<rect x="233.10" y="79.80" width="6.00" height="6.00" fill="#EF464B"/>
<rect x="239.10" y="79.80" width="13.00" height="6.00" fill="#EF5350"/>
<rect x="252.10" y="79.80" width="12.00" height="6.00" fill="#F48D6B"/>
<rect x="22.10" y="85.80" width="7.00" height="7.00" fill="#EF464B"/>
<rect x="29.10" y="85.80" width="6.00" height="7.00" fill="#D62136"/>
<rect x="35.10" y="85.80" width="6.00" height="7.00" fill="#BE202E"/>
<rect x="41.10" y="85.80" width="83.00" height="7.00" fill="#971A1E"/>
<rect x="124.10" y="85.80" width="96.00" height="7.00" fill="#BE202E"/>
<rect x="220.10" y="85.80" width="13.00" height="7.00" fill="#D62136"/>
<rect x="233.10" y="85.80" width="6.00" height="7.00" fill="#ED2E3C"/>
<rect x="239.10" y="85.80" width="6.00" height="7.00" fill="#EF464B"/>
<rect x="245.10" y="85.80" width="13.00" height="7.00" fill="#EF5350"/>
<rect x="258.10" y="85.80" width="6.00" height="7.00" fill="#F48D6B"/>
<rect x="16.10" y="92.80" width="13.00" height="6.00" fill="#EF464B"/>
<rect x="29.10" y="92.80" width="6.00" height="6.00" fill="#D62136"/>
<rect x="35.10" y="92.80" width="6.00" height="6.00" fill="#BE202E"/>
<rect x="41.10" y="92.80" width="83.00" height="6.00" fill="#971A1E"/>
<rect x="124.10" y="92.80" width="102.00" height="6.00" fill="#BE202E"/>
<rect x="226.10" y="92.80" width="13.00" height="6.00" fill="#D62136"/>
<rect x="239.10" y="92.80" width="6.00" height="6.00" fill="#ED2E3C"/>
<rect x="245.10" y="92.80" width="7.00" height="6.00" fill="#EF464B"/>
<rect x="252.10" y="92.80" width="12.00" height="6.00" fill="#EF5350"/>
<rect x="264.10" y="92.80" width="13.00" height="6.00" fill="#F48D6B"/>
<rect x="16.10" y="98.80" width="6.00" height="6.00" fill="#EF464B"/>
<rect x="22.10" y="98.80" width="7.00" height="6.00" fill="#ED2E3C"/>
<rect x="29.10" y="98.80" width="6.00" height="6.00" fill="#D62136"/>
<rect x="35.10" y="98.80" width="13.00" height="6.00" fill="#BE202E"/>
<rect x="48.10" y="98.80" width="38.00" height="6.00" fill="#971A1E"/>
<rect x="86.10" y="98.80" width="38.00" height="6.00" fill="#BE202E"/>
<rect x="124.10" y="98.80" width="26.00" height="6.00" fill="#D62136"/>
<rect x="150.10" y="98.80" width="76.00" height="6.00" fill="#BE202E"/>
<rect x="226.10" y="98.80" width="13.00" height="6.00" fill="#D62136"/>
<rect x="239.10" y="98.80" width="6.00" height="6.00" fill="#ED2E3C"/>
<rect x="245.10" y="98.80" width="13.00" height="6.00" fill="#EF464B"/>
<rect x="258.10" y="98.80" width="13.00" height="6.00" fill="#EF5350"/>
<rect x="271.10" y="98.80" width="6.00" height="6.00" fill="#F48D6B"/>
<rect x="22.10" y="104.80" width="7.00" height="7.00" fill="#EF464B"/>
<rect x="29.10" y="104.80" width="6.00" height="7.00" fill="#ED2E3C"/>
<rect x="35.10" y="104.80" width="6.00" height="7.00" fill="#D62136"/>
<rect x="41.10" y="104.80" width="7.00" height="7.00" fill="#BE202E"/>
<rect x="48.10" y="104.80" width="19.00" height="7.00" fill="#971A1E"/>
<rect x="67.10" y="104.80" width="51.00" height="7.00" fill="#BE202E"/>
<rect x="118.10" y="104.80" width="44.00" height="7.00" fill="#D62136"/>
<rect x="162.10" y="104.80" width="64.00" height="7.00" fill="#BE202E"/>
<rect x="226.10" y="104.80" width="19.00" height="7.00" fill="#D62136"/>
<rect x="245.10" y="104.80" width="7.00" height="7.00" fill="#ED2E3C"/>
<rect x="252.10" y="104.80" width="12.00" height="7.00" fill="#EF464B"/>
<rect x="264.10" y="104.80" width="13.00" height="7.00" fill="#EF5350"/>
<rect x="22.10" y="111.80" width="7.00" height="6.00" fill="#EF5350"/>
<rect x="29.10" y="111.80" width="6.00" height="6.00" fill="#ED2E3C"/>
<rect x="35.10" y="111.80" width="6.00" height="6.00" fill="#D62136"/>
<rect x="41.10" y="111.80" width="39.00" height="6.00" fill="#BE202E"/>
<rect x="80.10" y="111.80" width="25.00" height="6.00" fill="#D62136"/>
<rect x="105.10" y="111.80" width="45.00" height="6.00" fill="#ED2E3C"/>
<rect x="150.10" y="111.80" width="63.00" height="6.00" fill="#D62136"/>
<rect x="213.10" y="111.80" width="7.00" height="6.00" fill="#BE202E"/>
<rect x="220.10" y="111.80" width="32.00" height="6.00" fill="#D62136"/>
<rect x="252.10" y="111.80" width="6.00" height="6.00" fill="#ED2E3C"/>
<rect x="258.10" y="111.80" width="6.00" height="6.00" fill="#EF464B"/>
<rect x="264.10" y="111.80" width="13.00" height="6.00" fill="#EF5350"/>
<rect x="29.10" y="117.80" width="6.00" height="7.00" fill="#EF464B"/>
<rect x="35.10" y="117.80" width="6.00" height="7.00" fill="#ED2E3C"/>
<rect x="41.10" y="117.80" width="7.00" height="7.00" fill="#D62136"/>
<rect x="48.10" y="117.80" width="25.00" height="7.00" fill="#BE202E"/>
<rect x="73.10" y="117.80" width="13.00" height="7.00" fill="#D62136"/>
<rect x="86.10" y="117.80" width="13.00" height="7.00" fill="#ED2E3C"/>
<rect x="99.10" y="117.80" width="44.00" height="7.00" fill="#EF464B"/>
<rect x="143.10" y="117.80" width="26.00" height="7.00" fill="#ED2E3C"/>
<rect x="169.10" y="117.80" width="89.00" height="7.00" fill="#D62136"/>
<rect x="258.10" y="117.80" width="6.00" height="7.00" fill="#ED2E3C"/>
<rect x="264.10" y="117.80" width="7.00" height="7.00" fill="#EF464B"/>
<rect x="271.10" y="117.80" width="6.00" height="7.00" fill="#EF5350"/>
<rect x="29.10" y="124.80" width="6.00" height="6.00" fill="#EF5350"/>
<rect x="35.10" y="124.80" width="6.00" height="6.00" fill="#EF464B"/>
<rect x="41.10" y="124.80" width="7.00" height="6.00" fill="#ED2E3C"/>
<rect x="48.10" y="124.80" width="25.00" height="6.00" fill="#D62136"/>
<rect x="73.10" y="124.80" width="7.00" height="6.00" fill="#ED2E3C"/>
<rect x="80.10" y="124.80" width="6.00" height="6.00" fill="#EF464B"/>
<rect x="86.10" y="124.80" width="57.00" height="6.00" fill="#EF5350"/>
<rect x="143.10" y="124.80" width="13.00" height="6.00" fill="#EF464B"/>
<rect x="156.10" y="124.80" width="45.00" height="6.00" fill="#ED2E3C"/>
<rect x="201.10" y="124.80" width="57.00" height="6.00" fill="#D62136"/>
<rect x="258.10" y="124.80" width="6.00" height="6.00" fill="#ED2E3C"/>
<rect x="264.10" y="124.80" width="13.00" height="6.00" fill="#EF464B"/>
<rect x="35.10" y="130.80" width="6.00" height="6.00" fill="#EF5350"/>
<rect x="41.10" y="130.80" width="7.00" height="6.00" fill="#EF464B"/>
<rect x="48.10" y="130.80" width="25.00" height="6.00" fill="#ED2E3C"/>
<rect x="73.10" y="130.80" width="7.00" height="6.00" fill="#EF464B"/>
<rect x="80.10" y="130.80" width="6.00" height="6.00" fill="#EF5350"/>
<rect x="86.10" y="130.80" width="6.00" height="6.00" fill="#F48D6B"/>
<rect x="92.10" y="130.80" width="45.00" height="6.00" fill="#FBB88C"/>
<rect x="137.10" y="130.80" width="6.00" height="6.00" fill="#F48D6B"/>
<rect x="143.10" y="130.80" width="7.00" height="6.00" fill="#EF5350"/>
<rect x="150.10" y="130.80" width="12.00" height="6.00" fill="#EF464B"/>
<rect x="162.10" y="130.80" width="51.00" height="6.00" fill="#ED2E3C"/>
<rect x="213.10" y="130.80" width="45.00" height="6.00" fill="#D62136"/>
<rect x="258.10" y="130.80" width="6.00" height="6.00" fill="#ED2E3C"/>
<rect x="264.10" y="130.80" width="7.00" height="6.00" fill="#EF464B"/>
<rect x="271.10" y="130.80" width="6.00" height="6.00" fill="#EF5350"/>
<rect x="35.10" y="136.80" width="6.00" height="7.00" fill="#EF5350"/>
<rect x="41.10" y="136.80" width="26.00" height="7.00" fill="#EF464B"/>
<rect x="67.10" y="136.80" width="6.00" height="7.00" fill="#EF5350"/>
<rect x="73.10" y="136.80" width="7.00" height="7.00" fill="#F48D6B"/>
<rect x="80.10" y="136.80" width="38.00" height="7.00" fill="#FBB88C"/>
<rect x="137.10" y="136.80" width="13.00" height="7.00" fill="#F48D6B"/>
<rect x="150.10" y="136.80" width="19.00" height="7.00" fill="#EF5350"/>
<rect x="169.10" y="136.80" width="44.00" height="7.00" fill="#EF464B"/>
<rect x="213.10" y="136.80" width="13.00" height="7.00" fill="#ED2E3C"/>
<rect x="226.10" y="136.80" width="32.00" height="7.00" fill="#D62136"/>
<rect x="258.10" y="136.80" width="6.00" height="7.00" fill="#ED2E3C"/>
<rect x="264.10" y="136.80" width="7.00" height="7.00" fill="#EF464B"/>
<rect x="35.10" y="143.80" width="6.00" height="6.00" fill="#F48D6B"/>
<rect x="41.10" y="143.80" width="19.00" height="6.00" fill="#EF5350"/>
<rect x="60.10" y="143.80" width="13.00" height="6.00" fill="#F48D6B"/>
<rect x="73.10" y="143.80" width="19.00" height="6.00" fill="#FBB88C"/>
<rect x="150.10" y="143.80" width="6.00" height="6.00" fill="#F48D6B"/>
<rect x="156.10" y="143.80" width="32.00" height="6.00" fill="#EF5350"/>
<rect x="188.10" y="143.80" width="32.00" height="6.00" fill="#EF464B"/>
<rect x="220.10" y="143.80" width="13.00" height="6.00" fill="#ED2E3C"/>
<rect x="233.10" y="143.80" width="19.00" height="6.00" fill="#D62136"/>
<rect x="252.10" y="143.80" width="6.00" height="6.00" fill="#ED2E3C"/>
<rect x="258.10" y="143.80" width="6.00" height="6.00" fill="#EF464B"/>
<rect x="29.10" y="149.80" width="12.00" height="6.00" fill="#F48D6B"/>
<rect x="41.10" y="149.80" width="13.00" height="6.00" fill="#FBB88C"/>
<rect x="54.10" y="149.80" width="13.00" height="6.00" fill="#F48D6B"/>
<rect x="73.10" y="149.80" width="13.00" height="6.00" fill="#FBB88C"/>
<rect x="162.10" y="149.80" width="13.00" height="6.00" fill="#F48D6B"/>
<rect x="175.10" y="149.80" width="32.00" height="6.00" fill="#EF5350"/>
<rect x="207.10" y="149.80" width="19.00" height="6.00" fill="#EF464B"/>
<rect x="226.10" y="149.80" width="32.00" height="6.00" fill="#ED2E3C"/>
<rect x="258.10" y="149.80" width="6.00" height="6.00" fill="#EF464B"/>
<rect x="41.10" y="155.80" width="13.00" height="7.00" fill="#FBB88C"/>
<rect x="182.10" y="155.80" width="12.00" height="7.00" fill="#F48D6B"/>
<rect x="194.10" y="155.80" width="19.00" height="7.00" fill="#EF5350"/>
<rect x="213.10" y="155.80" width="39.00" height="7.00" fill="#EF464B"/>
<rect x="252.10" y="155.80" width="6.00" height="7.00" fill="#EF5350"/>
<rect x="182.10" y="162.80" width="6.00" height="6.00" fill="#FBB88C"/>
<rect x="188.10" y="162.80" width="19.00" height="6.00" fill="#F48D6B"/>
<rect x="207.10" y="162.80" width="13.00" height="6.00" fill="#EF5350"/>
<rect x="220.10" y="162.80" width="38.00" height="6.00" fill="#EF464B"/>
<rect x="188.10" y="168.80" width="13.00" height="7.00" fill="#FBB88C"/>
<rect x="201.10" y="168.80" width="12.00" height="7.00" fill="#F48D6B"/>
<rect x="213.10" y="168.80" width="13.00" height="7.00" fill="#EF5350"/>
<rect x="226.10" y="168.80" width="26.00" height="7.00" fill="#EF464B"/>
<rect x="252.10" y="168.80" width="6.00" height="7.00" fill="#EF5350"/>
<rect x="194.10" y="175.80" width="19.00" height="6.00" fill="#FBB88C"/>
<rect x="213.10" y="175.80" width="13.00" height="6.00" fill="#F48D6B"/>
<rect x="226.10" y="175.80" width="19.00" height="6.00" fill="#EF5350"/>
<rect x="226.10" y="181.80" width="7.00" height="6.00" fill="#FBB88C"/>
<rect x="213.10" y="187.80" width="7.00" height="7.00" fill="#FEDDC8"/>
<rect x="239.10" y="187.80" width="6.00" height="7.00" fill="#FEDDC8"/>
<rect x="220.10" y="194.80" width="25.00" height="6.00" fill="#F4EE42"/>
<rect x="220.10" y="200.80" width="25.00" height="6.00" fill="#F4EE42"/>
<rect x="226.10" y="206.80" width="19.00" height="7.00" fill="#F4EE42"/>
</g>
<path d="M-2.8999999999999773,0 V223.1 M3.1000000000000227,0 V223.1 M9.100000000000023,0 V223.1 M16.100000000000023,0 V223.1 M22.100000000000023,0 V223.1 M29.100000000000023,0 V223.1 M35.10000000000002,0 V223.1 M41.10000000000002,0 V223.1 M48.10000000000002,0 V223.1 M54.10000000000002,0 V223.1 M60.10000000000002,0 V223.1 M67.10000000000002,0 V223.1 M73.10000000000002,0 V223.1 M80.10000000000002,0 V223.1 M86.10000000000002,0 V223.1 M92.10000000000002,0 V223.1 M99.10000000000002,0 V223.1 M105.10000000000002,0 V223.1 M111.10000000000002,0 V223.1 M118.10000000000002,0 V223.1 M124.10000000000002,0 V223.1 M131.10000000000002,0 V223.1 M137.10000000000002,0 V223.1 M143.10000000000002,0 V223.1 M150.10000000000002,0 V223.1 M156.10000000000002,0 V223.1 M162.10000000000002,0 V223.1 M169.10000000000002,0 V223.1 M175.10000000000002,0 V223.1 M182.10000000000002,0 V223.1 M188.10000000000002,0 V223.1 M194.10000000000002,0 V223.1 M201.10000000000002,0 V223.1 M207.10000000000002,0 V223.1 M213.10000000000002,0 V223.1 M220.10000000000002,0 V223.1 M226.10000000000002,0 V223.1 M233.10000000000002,0 V223.1 M239.10000000000002,0 V223.1 M245.10000000000002,0 V223.1 M252.10000000000002,0 V223.1 M258.1,0 V223.1 M264.1,0 V223.1 M271.1,0 V223.1 M277.1,0 V223.1 M284.1,0 V223.1 M290.1,0 V223.1 M0,-3.1999999999999886 H286.9 M0,2.8000000000000114 H286.9 M0,9.800000000000011 H286.9 M0,15.800000000000011 H286.9 M0,22.80000000000001 H286.9 M0,28.80000000000001 H286.9 M0,34.80000000000001 H286.9 M0,41.80000000000001 H286.9 M0,47.80000000000001 H286.9 M0,53.80000000000001 H286.9 M0,60.80000000000001 H286.9 M0,66.80000000000001 H286.9 M0,73.80000000000001 H286.9 M0,79.80000000000001 H286.9 M0,85.80000000000001 H286.9 M0,92.80000000000001 H286.9 M0,98.80000000000001 H286.9 M0,104.80000000000001 H286.9 M0,111.80000000000001 H286.9 M0,117.80000000000001 H286.9 M0,124.80000000000001 H286.9 M0,130.8 H286.9 M0,136.8 H286.9 M0,143.8 H286.9 M0,149.8 H286.9 M0,155.8 H286.9 M0,162.8 H286.9 M0,168.8 H286.9 M0,175.8 H286.9 M0,181.8 H286.9 M0,187.8 H286.9 M0,194.8 H286.9 M0,200.8 H286.9 M0,206.8 H286.9 M0,213.8 H286.9 M0,219.8 H286.9 M0,226.8 H286.9" stroke="#fff" stroke-opacity="0.08" stroke-width="0.8" fill="none"/>
<path d="M207.2,4.5 L209.1,6.4 L209.7,11.5 L211.6,14.7 L213.6,18.5 L213.6,24.2 L215.5,28.1 L216.8,28.7 L219.9,26.8 L222.5,29.3 L225.0,31.9 L225.0,35.1 L225.7,38.2 L226.3,41.4 L228.2,44.0 L230.1,47.8 L230.1,52.3 L231.4,55.5 L234.6,58.6 L239.1,59.9 L241.0,62.5 L244.2,63.8 L247.4,66.9 L249.9,70.8 L251.8,76.5 L253.7,79.0 L258.2,79.7 L260.1,82.9 L260.1,86.1 L263.3,88.6 L267.1,90.5 L270.3,94.4 L273.5,97.5 L275.4,94.4 L276.0,98.8 L274.8,102.0 L274.8,107.1 L275.4,111.6 L277.3,116.0 L277.9,118.6 L276.7,123.7 L275.4,128.8 L274.1,133.9 L273.5,137.1 L270.9,141.5 L269.0,144.7 L266.5,146.0 L263.3,151.7 L260.7,156.2 L259.5,160.7 L256.3,165.8 L255.0,171.5 L254.4,175.3 L248.6,177.2 L242.2,177.9 L235.9,181.0 L232.1,185.5 L229.5,183.6 L226.3,182.3 L223.1,181.0 L222.5,177.9 L219.3,179.1 L221.2,180.4 L213.6,183.6 L207.2,181.0 L201.4,180.4 L197.0,178.5 L193.2,175.3 L190.0,172.1 L188.7,167.0 L184.9,163.2 L181.7,163.2 L179.1,163.2 L181.7,159.4 L181.7,157.5 L179.1,154.3 L177.9,156.2 L177.2,160.0 L172.1,160.7 L174.7,156.2 L175.3,153.0 L177.9,148.5 L177.2,144.1 L175.3,147.3 L172.1,151.1 L168.3,153.6 L165.1,157.5 L163.2,158.7 L160.6,156.2 L160.6,151.7 L157.5,147.9 L154.3,145.3 L153.6,143.4 L150.4,140.9 L145.4,140.2 L141.5,140.2 L135.1,137.1 L127.5,137.7 L121.1,138.3 L114.8,140.9 L108.4,142.2 L102.0,142.2 L95.6,144.7 L91.2,146.6 L86.7,152.4 L82.9,153.0 L76.5,152.4 L70.1,152.4 L63.8,152.4 L59.3,155.5 L51.0,159.4 L44.6,159.4 L38.2,158.1 L33.2,154.9 L31.9,150.5 L35.7,149.2 L36.3,143.4 L36.3,139.6 L34.4,133.9 L31.9,128.8 L31.2,122.4 L29.3,119.9 L26.8,114.8 L26.1,110.3 L22.9,105.8 L24.2,102.0 L26.8,103.9 L22.3,98.8 L23.6,94.4 L21.7,90.5 L24.2,84.1 L24.2,79.7 L25.5,75.2 L27.4,79.0 L30.0,75.2 L35.1,72.7 L42.7,67.6 L47.8,68.2 L54.8,65.7 L62.5,63.8 L70.1,61.2 L75.2,54.2 L77.8,51.0 L77.8,45.9 L82.2,41.4 L86.7,47.2 L86.7,41.4 L91.8,40.2 L93.1,35.1 L96.9,31.9 L96.9,28.7 L102.0,26.8 L107.1,24.2 L111.6,26.8 L116.0,30.6 L116.0,34.4 L117.9,31.2 L122.4,31.2 L125.6,30.6 L124.9,25.5 L126.9,22.3 L129.4,20.4 L128.8,17.2 L132.6,15.3 L135.1,14.0 L140.2,14.0 L144.1,14.0 L144.1,9.6 L139.6,8.3 L144.7,7.0 L149.8,11.5 L154.3,12.1 L159.4,14.0 L164.5,12.8 L169.6,12.8 L171.5,14.7 L168.9,19.1 L165.8,21.0 L165.1,25.5 L162.6,30.0 L162.6,33.1 L167.7,36.3 L172.1,38.2 L178.5,42.1 L184.9,44.6 L188.7,47.8 L193.8,48.5 L197.0,46.5 L199.5,40.8 L201.4,33.1 L201.4,25.5 L201.4,19.1 L202.7,15.9 L202.7,12.8 L204.6,8.3 L207.2,4.5Z M221.2,195.7 L225.0,196.3 L230.8,198.3 L234.6,197.6 L238.4,197.0 L242.2,196.3 L244.2,197.6 L244.2,202.7 L244.2,205.3 L242.2,208.5 L241.6,211.7 L238.4,209.7 L235.9,212.9 L234.6,214.2 L229.5,213.6 L226.3,209.7 L224.4,205.9 L221.9,200.8 L221.2,195.7Z M169.6,164.5 L174.0,163.2 L179.1,164.5 L175.9,165.8 L170.2,165.8 L169.6,164.5Z M129.4,8.9 L133.2,8.3 L137.1,8.9 L136.4,11.5 L132.0,11.5 L129.4,8.9Z M84.2,-0.6 L86.1,1.9 L88.6,1.6 L91.2,-0.6 M243.5,-0.3 L250.5,0.6 L255.0,1.6 L256.0,3.8 L258.2,4.5 L260.4,2.2 L260.1,-0.6 M256.3,1.0 L258.8,0.6 L258.8,2.9 L256.9,3.2Z" fill="none" stroke="#000" stroke-width="1.5" stroke-linejoin="round"/>
</g>
<rect x="0" y="0" width="286.88" height="223.12" fill="none" stroke="#1a1a1a" stroke-width="1.5"/>
<path d="M63.75,0 v5 M63.75,223.12 v-5 M127.50,0 v5 M127.50,223.12 v-5 M191.25,0 v5 M191.25,223.12 v-5 M255.00,0 v5 M255.00,223.12 v-5 M0,63.75 h5 M286.88,63.75 h-5 M0,127.50 h5 M286.88,127.50 h-5 M0,191.25 h5 M286.88,191.25 h-5" stroke="#1a1a1a" stroke-width="1.3" fill="none"/>
<rect x="0" y="0" width="14.0" height="18.6" fill="#fff" stroke="#1a1a1a" stroke-width="1.3"/>
<text x="7.10" y="16.0" text-anchor="middle" font-size="18.5">d</text>
<text class="tl" transform="translate(0.00,240.82) scale(0.96,1)" text-anchor="middle">110E</text>
<text class="tl" transform="translate(63.75,240.82) scale(0.96,1)" text-anchor="middle">120E</text>
<text class="tl" transform="translate(127.50,240.82) scale(0.96,1)" text-anchor="middle">130E</text>
<text class="tl" transform="translate(191.25,240.82) scale(0.96,1)" text-anchor="middle">140E</text>
<text class="tl" transform="translate(255.00,240.82) scale(0.96,1)" text-anchor="middle">150E</text>
</g>
<rect x="12.5" y="512.6" width="52.0" height="21.4" fill="#F4EE42" stroke="#111" stroke-width="1.3"/>
<rect x="64.5" y="512.6" width="52.0" height="21.4" fill="#FAF69C" stroke="#111" stroke-width="1.3"/>
<rect x="116.5" y="512.6" width="52.0" height="21.4" fill="#FEDDC8" stroke="#111" stroke-width="1.3"/>
<rect x="168.5" y="512.6" width="52.0" height="21.4" fill="#FBB88C" stroke="#111" stroke-width="1.3"/>
<rect x="220.5" y="512.6" width="52.0" height="21.4" fill="#F48D6B" stroke="#111" stroke-width="1.3"/>
<rect x="272.5" y="512.6" width="52.0" height="21.4" fill="#EF5350" stroke="#111" stroke-width="1.3"/>
<rect x="324.5" y="512.6" width="52.0" height="21.4" fill="#EF464B" stroke="#111" stroke-width="1.3"/>
<rect x="376.5" y="512.6" width="52.0" height="21.4" fill="#ED2E3C" stroke="#111" stroke-width="1.3"/>
<rect x="428.5" y="512.6" width="52.0" height="21.4" fill="#D62136" stroke="#111" stroke-width="1.3"/>
<rect x="480.5" y="512.6" width="52.0" height="21.4" fill="#BE202E" stroke="#111" stroke-width="1.3"/>
<rect x="532.5" y="512.6" width="52.0" height="21.4" fill="#971A1E" stroke="#111" stroke-width="1.3"/>
<rect x="584.5" y="512.6" width="52.0" height="21.4" fill="#5E100E" stroke="#111" stroke-width="1.3"/>
<text transform="translate(64.5,553.7) scale(1.1,1)" class="cl" text-anchor="middle" font-size="16.2">2.75</text>
<text transform="translate(116.5,553.7) scale(1.1,1)" class="cl" text-anchor="middle" font-size="16.2">3</text>
<text transform="translate(168.5,553.7) scale(1.1,1)" class="cl" text-anchor="middle" font-size="16.2">3.25</text>
<text transform="translate(220.5,553.7) scale(1.1,1)" class="cl" text-anchor="middle" font-size="16.2">3.5</text>
<text transform="translate(272.5,553.7) scale(1.1,1)" class="cl" text-anchor="middle" font-size="16.2">3.75</text>
<text transform="translate(324.5,553.7) scale(1.1,1)" class="cl" text-anchor="middle" font-size="16.2">4</text>
<text transform="translate(376.5,553.7) scale(1.1,1)" class="cl" text-anchor="middle" font-size="16.2">4.25</text>
<text transform="translate(428.5,553.7) scale(1.1,1)" class="cl" text-anchor="middle" font-size="16.2">4.5</text>
<text transform="translate(480.5,553.7) scale(1.1,1)" class="cl" text-anchor="middle" font-size="16.2">4.75</text>
<text transform="translate(532.5,553.7) scale(1.1,1)" class="cl" text-anchor="middle" font-size="16.2">5</text>
<text transform="translate(584.5,553.7) scale(1.1,1)" class="cl" text-anchor="middle" font-size="16.2">5.25</text>
</svg>
</body></html>
